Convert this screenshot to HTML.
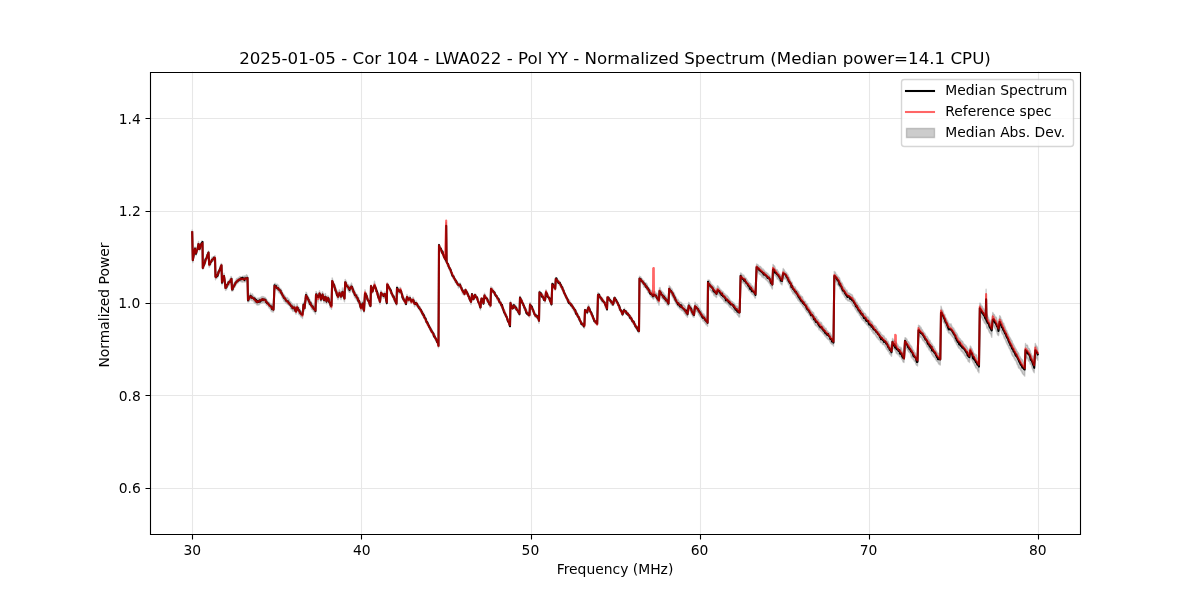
<!DOCTYPE html>
<html><head><meta charset="utf-8"><title>Normalized Spectrum</title><style>html,body{margin:0;padding:0;background:#fff;overflow:hidden;width:1200px;height:600px}svg{display:block;will-change:transform;font-family:"DejaVu Sans",sans-serif}</style></head><body>
<svg width="1200" height="600" viewBox="0 0 1200 600">
<defs><clipPath id="c"><rect x="150" y="72" width="930" height="462"/></clipPath></defs>
<rect width="1200" height="600" fill="#fff"/>
<g clip-path="url(#c)">
<path d="M192.2 230.03 L192.8 258.5 L193.35 255.01 L193.9 252.42 L194.45 249.73 L195 247.03 L195.5 248.89 L196 251.47 L196.5 249.63 L197 248.39 L197.5 246.94 L198 243.96 L198.5 241.54 L199 243.93 L199.5 247.05 L200 245.26 L200.5 243.75 L201 243.06 L201.5 242.54 L202 240.72 L202.5 241.78 L202.8 265.95 L203.35 264.38 L203.9 263.46 L204.45 261.46 L205 259.62 L205.5 259.73 L206 256.8 L206.5 256 L207 255.19 L207.5 252.94 L208 252.13 L208.5 251.09 L209.2 264.09 L209.76 261.44 L210.32 260.86 L210.88 260.21 L211.44 258.92 L212 257.27 L212.5 257.66 L213 257.09 L213.5 256.84 L214 256.76 L214.5 256.28 L215 255.56 L215.5 275.51 L216 274.1 L216.5 273.88 L217 273.35 L217.5 272.34 L218 271.89 L218.5 270.14 L219 270.03 L219.5 269.05 L220 266.49 L220.5 265.59 L221 263.99 L221.5 263.45 L222 280.03 L222.5 278.35 L223 276.69 L223.5 275.37 L224 273.3 L224.5 278.13 L225 281.44 L225.5 286.06 L226 285.05 L226.5 284.73 L227 283.37 L227.5 283.09 L228 281.31 L228.5 281.36 L229 280.23 L229.5 279.72 L230 278.94 L230.5 278.66 L231 276.46 L231.5 276.91 L232 286.5 L232.5 286.98 L233 284.51 L233.5 284.11 L234 282.9 L234.5 283.72 L235 281.42 L235.5 281.29 L236 280.12 L236.5 278.66 L237 278.55 L237.5 278.71 L238 277.95 L238.5 278.18 L239 277.19 L239.5 277.04 L240 276.51 L240.5 276.86 L241 277.62 L241.5 276.83 L242 276.73 L242.5 276.31 L243 276.22 L243.5 277.32 L244 276.01 L244.5 275.95 L245 276.2 L245.5 275.87 L246 276.91 L246.5 274.59 L247 275.79 L247.5 275.81 L248 296.87 L248.5 296.39 L249 296.22 L249.5 296.1 L250 294.11 L250.5 293.06 L251 294.62 L251.5 295.18 L252 294.53 L252.5 293.88 L253 295.99 L253.5 295.66 L254 296.81 L254.5 296.72 L255 297.05 L255.5 297.5 L256 298.95 L256.5 299.43 L257 298.13 L257.5 298.57 L258 299.76 L258.5 298.52 L259 297.85 L259.5 298.37 L260 298.15 L260.5 297.78 L261 297.21 L261.5 296.92 L262 296.47 L262.5 296.95 L263 296.46 L263.5 296.81 L264 296.96 L264.5 297.77 L265 297.39 L265.5 297.77 L266 298.72 L266.5 299.28 L267 300.24 L267.5 300.58 L268 301.85 L268.5 302.25 L269 302.18 L269.5 302.49 L270 303.64 L270.5 303.96 L271 304.15 L271.5 303.96 L272 304.28 L272.5 305.87 L273 306.59 L273.5 307.1 L274 294.31 L274.5 283.72 L275 283.29 L275.5 284.11 L276 284.48 L276.5 284.23 L277 284.69 L277.5 284.31 L278 285.24 L278.5 285.38 L279 287.09 L279.5 287.48 L280 288.49 L280.5 288.79 L281 288.88 L281.5 290.37 L282 291 L282.5 292.5 L283 293.36 L283.5 293.71 L284 294.77 L284.5 295.37 L285 295.76 L285.5 296.93 L286 297.91 L286.5 297.44 L287 298.02 L287.5 297.58 L288 299.14 L288.5 299.48 L289 299.12 L289.5 300.84 L290 301.5 L290.5 301.5 L291 302.35 L291.5 302.72 L292 304.25 L292.5 303.77 L293 305.04 L293.5 305.84 L294 304.56 L294.5 304.43 L295 305.79 L295.5 306.95 L296 309.18 L296.5 306.9 L297 303.69 L297.5 305.37 L298 306.82 L298.5 307.73 L299 307.41 L299.5 308.71 L300 308.98 L300.5 310.9 L301 311.26 L301.5 311.88 L302 311.68 L302.5 312.12 L303 307.49 L303.5 302.25 L304 303.27 L304.5 305.27 L305 301.36 L305.5 296.98 L306 292.18 L306.5 292.56 L307 294.4 L307.5 295.53 L308 296.24 L308.5 297.07 L309 297.85 L309.5 299.47 L310 300.01 L310.5 301.01 L311 301.38 L311.5 302.47 L312 303.78 L312.5 303.77 L313 304.21 L313.5 305.25 L314 306.59 L314.5 306.65 L315 307.86 L315.5 307.63 L316 291.54 L316.5 292.13 L317 293.66 L317.5 295.79 L318 296.36 L318.5 294.73 L319 292.89 L319.5 290.7 L320 292.43 L320.5 294.43 L321 296.54 L321.5 294.93 L322 293.45 L322.5 291.78 L323 293.15 L323.5 295.24 L324 296.73 L324.5 296.54 L325 293.82 L325.5 293.59 L326 297.14 L326.5 298.03 L327 296.63 L327.5 296.19 L328 295.84 L328.5 296.41 L329 298.08 L329.5 299.11 L330 300.16 L330.5 303.2 L331 302.95 L331.5 303.93 L332.2 277.96 L332.77 279.89 L333.35 281.4 L333.93 283.09 L334.5 284.27 L335 284.91 L335.5 287.32 L336 288.33 L336.5 289.77 L337 290.6 L337.5 292.48 L338 293.84 L338.5 292.68 L339 290.47 L339.5 289.73 L340 291.1 L340.5 291.81 L341 293.39 L341.5 291.77 L342 291.15 L342.5 287.94 L343 290.65 L343.5 291.62 L344 293.86 L344.5 296.12 L345.2 279.38 L345.77 280.77 L346.35 281.28 L346.93 283.67 L347.5 284.16 L348 285.01 L348.5 284.54 L349 285.4 L349.5 287.24 L350 285.85 L350.5 285.07 L351 284.62 L351.5 283.07 L352 285.34 L352.5 286.21 L353 287.69 L353.5 288.36 L354 289.87 L354.5 290.17 L355 291.91 L355.5 292.91 L356 293.71 L356.5 294.37 L357 295.29 L357.5 294.48 L358 297.11 L358.5 297.42 L359 298.46 L359.5 300.17 L360 301.52 L360.5 303.85 L361 306.35 L361.5 305.26 L362 302.76 L362.5 301.15 L363 304.52 L363.5 305.55 L364 309.22 L364.5 299.23 L365 289.79 L365.5 292 L366 293.63 L366.5 293.35 L367 296.12 L367.5 296.48 L368 298.64 L368.5 298.93 L369 299.55 L369.5 301.81 L370 303.24 L370.5 305.05 L371 284.87 L371.5 286.19 L372 287.56 L372.5 289.25 L373 287.62 L373.5 285.6 L374 284.14 L374.5 281.25 L375 284.24 L375.5 285.77 L376 288.69 L376.5 289.42 L377 290.37 L377.5 292.47 L378 293.15 L378.5 295.03 L379 295.97 L379.5 299.2 L380 300.35 L380.5 294.72 L381 290.53 L381.5 291.74 L382 292.22 L382.5 292.86 L383 292.95 L383.5 293.76 L384 293.46 L384.5 293.21 L385 291.67 L385.6 294.36 L386.2 298.33 L386.8 300.13 L387.2 282.64 L387.76 283.32 L388.32 284.75 L388.88 286.28 L389.44 286.86 L390 288 L390.5 288.24 L391 289.44 L391.5 291.19 L392 292.73 L392.5 293.74 L393 295.29 L393.5 295.36 L394 296.38 L394.5 297.86 L395 298.44 L395.5 299.47 L396 300.05 L396.5 302.15 L397 286.12 L397.5 287.66 L398 287.45 L398.5 289.46 L399 289.15 L399.5 289.42 L400 287.54 L400.5 287.45 L401 290.1 L401.5 290.94 L402 293.22 L402.5 294.2 L403 294.53 L403.5 297.1 L404 298.41 L404.5 298.52 L405 300.24 L405.5 300.43 L406 301.2 L406.5 298.21 L407 294.37 L407.5 297.03 L408 296.27 L408.5 298.59 L409 298.22 L409.5 296.24 L410 295.86 L410.5 298.18 L411 298.83 L411.5 300.43 L412 299.98 L412.5 298.39 L413 297.21 L413.5 297.88 L414 300.85 L414.5 301.79 L415 302.16 L415.5 301.88 L416 300.82 L416.5 302.13 L417 302.98 L417.5 304.03 L418 304.18 L418.5 305.15 L419 305.66 L419.5 306.3 L420 306.52 L420.5 308.23 L421 309.06 L421.5 310.05 L422 310.54 L422.5 312.4 L423 312.8 L423.5 312.29 L424 314.29 L424.54 315.71 L425.07 317.35 L425.61 317.84 L426.15 319 L426.69 319.92 L427.23 321.71 L427.76 322.28 L428.3 323.33 L428.81 324.18 L429.32 325.74 L429.83 326.11 L430.34 326.45 L430.86 328.51 L431.37 328.77 L431.88 330.21 L432.39 331.13 L432.9 332.46 L433.41 333.31 L433.92 333.42 L434.43 334.55 L434.94 334.91 L435.46 337.32 L435.97 337.63 L436.48 339.03 L436.99 339.1 L437.5 339.16 L438 343.15 L438.5 344.64 L439 244.26 L439.5 245.25 L440 246.57 L440.5 247.54 L441 247.5 L441.5 249.87 L442 250.08 L442.5 251.14 L443 253.26 L443.5 254.11 L444 254.73 L444.5 255.22 L445 257.48 L445.6 258.67 L446.2 259.36 L446.2 222.78 L446.6 259 L447 260.77 L447.5 262.51 L448 263.81 L448.5 264.91 L449 265.03 L449.5 266.52 L450 267.68 L450.5 268.34 L451 269.73 L451.5 272.06 L452 272.3 L452.5 273.84 L453 274.18 L453.5 275.42 L454 275.54 L454.5 277.39 L455 278.75 L455.5 279.95 L456 280.25 L456.5 280.74 L457 281.3 L457.5 281.85 L458 282.94 L458.5 284.21 L459 283.34 L459.5 284.03 L460 282.91 L460.5 283.76 L461 285.39 L461.5 286.32 L462 287.71 L462.5 289.77 L463 289.9 L463.5 290.91 L464 292.18 L464.5 293.03 L465 290.15 L465.5 289.06 L466 289.59 L466.5 290.4 L467 291.62 L467.5 291.69 L468 293.01 L468.5 294.51 L469 296.04 L469.5 296.71 L470 298 L470.5 299.72 L471 301.11 L471.5 297.28 L472 294.03 L472.5 294.53 L473 295.91 L473.5 297.56 L474 295.92 L474.5 294.48 L475 294.23 L475.5 294.1 L476 294.52 L476.5 296.04 L477 297.52 L477.5 297.44 L478 299.43 L478.5 300.01 L479 301.4 L479.5 302.72 L480 304.41 L480.5 306.82 L481 300.82 L481.5 297.72 L482 297.52 L482.5 299.03 L483 300.69 L483.5 301.72 L484 297.79 L484.5 293.08 L485 294.83 L485.5 294.89 L486 297.43 L486.5 296.79 L487 297.87 L487.5 298.08 L488 299.29 L488.5 299.75 L489 301.77 L489.5 302.02 L490 303.31 L490.5 303.56 L491 286.65 L491.5 288.21 L492 287.75 L492.5 288 L493 289.77 L493.5 289.66 L494 290.68 L494.5 292.19 L495 292.16 L495.5 293.84 L496 293.89 L496.5 295.81 L497 296.56 L497.5 296.48 L498 297.42 L498.5 297.92 L499 299.25 L499.5 300.54 L500 300.05 L500.5 302.05 L501 301.74 L501.5 303.14 L502 303.84 L502.5 306.95 L503 307.1 L503.5 308.36 L504 309.06 L504.5 311.1 L505 310.68 L505.5 312.91 L506 315.17 L506.5 315.04 L507 316.41 L507.5 317.99 L508 318.49 L508.5 320.16 L509 321.88 L509.5 322.75 L510 324.09 L510.5 301.23 L511 302.93 L511.5 304.18 L512 306.25 L512.5 307.26 L513 305.94 L513.5 304.01 L514 304.76 L514.5 305.36 L515 305.11 L515.5 305.15 L516 306.16 L516.5 307.78 L517 307.37 L517.5 308.47 L518 309.61 L518.5 310.91 L519 311.09 L519.5 311.85 L520 296.13 L520.5 298.22 L521 298.93 L521.5 299.35 L522 299.7 L522.5 301 L523 302.69 L523.5 303.18 L524 305.13 L524.5 306.01 L525 307.12 L525.5 308.44 L526 309.51 L526.5 309.97 L527 310.82 L527.5 312.74 L528 311.55 L528.5 312.5 L529 313.85 L529.5 313.82 L530 302.49 L530.5 303.14 L531 304.97 L531.5 306.11 L532 307.2 L532.5 307.43 L533 309.12 L533.5 309.28 L534 311.08 L534.5 311.86 L535 313.49 L535.5 314.19 L536 314.77 L536.5 314.16 L537 315.7 L537.5 315.25 L538 315.39 L538.5 317.56 L539 318.67 L539.5 290.9 L540 291.63 L540.5 291.97 L541 292.92 L541.5 293.08 L542 293.82 L542.5 293.68 L543 295.32 L543.5 295.77 L544 296.88 L544.5 297.95 L545 299 L545.5 293.83 L546 289.62 L546.5 291.25 L547 292.64 L547.5 293.58 L548 294.85 L548.5 296.05 L549 296.65 L549.5 297.59 L550 298.28 L550.5 299.53 L551 300.97 L551.5 302.53 L552.3 282.71 L552.9 283.57 L553.5 284.46 L554.1 285.82 L554.65 286.5 L555.2 287.45 L555.8 277.55 L556.38 277.71 L556.96 278.04 L557.54 279.39 L558.12 279.93 L558.7 280.19 L559.2 280.96 L559.7 283.17 L560.2 282.52 L560.7 283.66 L561.2 284.77 L561.7 284.92 L562.28 286.86 L562.86 289 L563.44 289.87 L564.02 291.02 L564.6 292.3 L565.18 293.34 L565.76 295.04 L566.34 295.76 L566.92 296.91 L567.5 298.45 L568.01 299.5 L568.52 299.87 L569.04 300.69 L569.55 299.99 L570.06 302.25 L570.58 303.47 L571.09 303.62 L571.6 303.44 L572.17 304.06 L572.73 305.51 L573.3 305.76 L573.87 307.5 L574.43 307.75 L575 309.38 L575.51 310.57 L576.03 309.86 L576.54 312 L577.06 312.49 L577.57 313.12 L578.09 314.51 L578.6 315.69 L579.18 317.5 L579.76 317.4 L580.34 319.87 L580.92 321.53 L581.5 322 L582.08 322.55 L582.66 322.85 L583.24 322.85 L583.82 324.29 L584.4 324.79 L585 309.27 L585.58 310.46 L586.15 309.81 L586.72 309.94 L587.3 310.78 L587.9 307.03 L588.5 304.83 L589.08 306.61 L589.66 307.87 L590.24 309.95 L590.82 310.84 L591.4 313.27 L591.9 314.23 L592.4 314.93 L592.9 315.42 L593.4 316.99 L593.9 318.16 L594.4 318.3 L594.9 320.07 L595.48 320.98 L596.05 321.46 L596.62 322.86 L597.2 323.41 L598 292.49 L598.5 293.55 L599 293.65 L599.5 294.94 L600 294.8 L600.5 296.28 L601 296.59 L601.5 297.55 L602 297.66 L602.5 297.67 L603 299.95 L603.5 299.65 L604 301.09 L604.5 301.7 L605 302.9 L605.5 304.56 L606 304.9 L606.5 306.52 L607 306.16 L607.5 296.34 L608 296.36 L608.5 297 L609 297.65 L609.5 298.41 L610 299.65 L610.5 298.47 L611 300.02 L611.5 300.24 L612 301.78 L612.5 301.59 L613 302.63 L613.5 300.2 L614 298.73 L614.5 296.91 L615 297 L615.5 298.02 L616 298.09 L616.5 299.75 L617 300.83 L617.5 301.29 L618 303.29 L618.5 302.86 L619 304.14 L619.5 305.54 L620 307.16 L620.5 308.41 L621 309.36 L621.5 310.37 L622 311.76 L622.5 312.16 L623 310.6 L623.5 309.44 L624 309.96 L624.5 308.14 L625 309.65 L625.5 310.88 L626 310.81 L626.5 310.57 L627 311.4 L627.5 312.42 L628 313.17 L628.5 312.7 L629 314.11 L629.5 314.44 L630 315.45 L630.5 316.4 L631 316.34 L631.5 316.59 L632 318.31 L632.5 319.8 L633 320.06 L633.5 320.64 L634 322.53 L634.5 321.61 L635 323.38 L635.5 323.45 L636 324.56 L636.5 325.3 L637 326.74 L637.5 326.23 L638 327.15 L638.5 327.34 L639 329.1 L639.5 276.1 L640 277.01 L640.5 276.73 L641 277.56 L641.5 278.73 L642 278.59 L642.5 279.63 L643 280.22 L643.5 280.41 L644 280.45 L644.5 282.36 L645 282.59 L645.5 283.63 L646 282.77 L646.5 283.58 L647 283.98 L647.5 285.24 L648 286.84 L648.5 287.33 L649 287.76 L649.5 288.57 L650 289.61 L650.5 289.81 L651 290.88 L651.5 291.25 L652 290.57 L652.5 291.97 L653 293.33 L653.5 292.2 L654 292.06 L654.5 291.57 L655 291.38 L655.5 292.97 L656 293.07 L656.5 293.49 L657 293.23 L657.5 295.29 L658 295.42 L658.5 296.32 L659 298.45 L659.5 287.9 L660 287.48 L660.5 289.76 L661 290.45 L661.5 290.72 L662 292.38 L662.5 291.77 L663 292.56 L663.5 293.01 L664 293.75 L664.5 295.32 L665 294.79 L665.5 295.52 L666 296.25 L666.5 297.46 L667 297.83 L667.5 299.07 L668 298.91 L668.5 299.26 L669.2 285.64 L669.76 286.6 L670.32 286.81 L670.88 288.1 L671.44 289.56 L672 289.05 L672.5 290.36 L673 292 L673.5 292 L674 292.89 L674.5 293.76 L675 295.39 L675.5 296.34 L676 296.9 L676.5 297.89 L677 299.4 L677.5 299.78 L678 299.24 L678.5 300.53 L679 301.18 L679.5 302.08 L680 302 L680.5 302.18 L681 302.66 L681.5 302.39 L682 303.66 L682.5 303.87 L683 304.89 L683.5 304.64 L684 305.42 L684.5 305.64 L685 306.31 L685.5 307.9 L686 308.02 L686.5 309.19 L687 309.11 L687.5 310.43 L688.15 305.63 L688.8 302.32 L689.35 303.18 L689.9 304.58 L690.45 305.25 L691 305.94 L691.5 307.35 L692 307.94 L692.5 309.02 L693 310.04 L693.5 310.53 L694 311.33 L694.5 307.13 L695 302.25 L695.5 303.23 L696 304.16 L696.5 304.61 L697 304.57 L697.5 304.69 L698 305.88 L698.5 306.63 L699 308.02 L699.5 308.06 L700 308.93 L700.5 310.18 L701 310.35 L701.5 311.29 L702 312.83 L702.5 313.31 L703 313.48 L703.5 313.9 L704 313.88 L704.51 315.36 L705.03 315.82 L705.54 316.61 L706.06 316.96 L706.57 317.92 L707.09 318.55 L707.6 319.51 L708 280.06 L708.5 280.2 L709 279.86 L709.5 280.86 L710 281.22 L710.5 282.28 L711 283.62 L711.5 284.18 L712 284.33 L712.5 285.4 L713 285.53 L713.5 285.84 L714 286.49 L714.5 287.4 L715 289.16 L715.5 288.41 L716 290.32 L716.5 290.99 L717 287.98 L717.5 285.8 L718 286.09 L718.5 286.95 L719 287.86 L719.5 288.11 L720 289.17 L720.5 289.83 L721 289.98 L721.5 290.55 L722 290.93 L722.5 291.7 L723 291.55 L723.5 292.88 L724 293.35 L724.5 293.4 L725 295.47 L725.52 294.43 L726.04 295.01 L726.57 296.1 L727.09 295.51 L727.61 296.61 L728.13 296.76 L728.66 297.56 L729.18 298.5 L729.7 299.24 L730.28 300.21 L730.85 300.63 L731.42 301.4 L732 301.67 L732.51 301.65 L733.02 302.96 L733.54 302.67 L734.05 303.11 L734.56 304.7 L735.08 304.84 L735.59 305.06 L736.1 305.84 L736.6 306.49 L737.1 305.95 L737.6 307.17 L738.1 307.21 L738.6 308.45 L739.1 308.63 L739.6 310.23 L740.1 291.66 L740.6 272.85 L741.11 273.68 L741.63 273.53 L742.14 274.59 L742.66 275.29 L743.17 275.59 L743.69 274.93 L744.2 276.17 L744.71 277.24 L745.23 277.79 L745.74 278.86 L746.25 278.29 L746.76 279.84 L747.27 279.9 L747.79 280.98 L748.3 281.73 L748.82 282.51 L749.34 282.52 L749.87 283.55 L750.39 283.51 L750.91 284.04 L751.43 285.66 L751.96 286 L752.48 285.86 L753 286.89 L753.5 288.02 L754 289.49 L754.5 289.93 L755 290.51 L755.5 289.91 L756.05 277.2 L756.6 263.94 L757.17 264.35 L757.73 264.81 L758.3 264.93 L758.87 266.37 L759.43 266.68 L760 266.34 L760.5 266.39 L761 268.39 L761.5 267.57 L762 268.93 L762.5 269.77 L763 268.82 L763.5 269.93 L764 270.03 L764.5 270.89 L765 271.22 L765.5 272.46 L766 272.21 L766.5 272.34 L767 273.33 L767.58 273.33 L768.16 273.98 L768.74 275.98 L769.32 275.15 L769.9 276.02 L770.4 277.26 L770.9 277.69 L771.4 278.14 L771.9 280.7 L772.4 280.76 L773 264.38 L773.53 265.18 L774.06 265.59 L774.59 266.25 L775.11 267.58 L775.64 269.41 L776.17 269.3 L776.7 270.01 L777.23 269.64 L777.76 271.13 L778.29 271.29 L778.82 273.02 L779.35 273.27 L779.88 274.15 L780.41 274.84 L780.94 275.34 L781.47 275.62 L782 277.41 L782.6 272.43 L783.2 268.53 L783.75 269.55 L784.3 269.93 L784.85 271 L785.4 271.95 L785.95 272.15 L786.5 272.71 L787 273.58 L787.5 274.95 L788 274.56 L788.5 276.62 L789 276.93 L789.5 277.74 L790 279.31 L790.5 280.07 L791 281.51 L791.5 282.73 L792 281.97 L792.5 284.06 L793 285.76 L793.5 285.9 L794 286.87 L794.5 286.88 L795 286.8 L795.5 287.64 L796 289.25 L796.5 290.05 L797 289.89 L797.5 290.81 L798 291.76 L798.5 291.44 L799 292.83 L799.5 294.49 L800 295.46 L800.5 295.03 L801 296.71 L801.5 296.24 L802 296.81 L802.5 296.81 L803 299.11 L803.5 299.16 L804 301.23 L804.5 300.93 L805 301.57 L805.5 301.29 L806 303.65 L806.5 303.43 L807 304.24 L807.5 303.93 L808 306.23 L808.5 306.99 L809 306.92 L809.5 308 L810 308.88 L810.5 309.9 L811 310.2 L811.5 311.74 L812 311.49 L812.5 312.04 L813 312.84 L813.5 312.54 L814 314.13 L814.5 315.77 L815 316.13 L815.5 316.19 L816 317.37 L816.5 316.78 L817 318.24 L817.5 319.25 L818 319.93 L818.5 319.79 L819 321.23 L819.5 322.31 L820 321.76 L820.5 322.94 L821 322.39 L821.5 322.78 L822 324.67 L822.5 324.98 L823 325.63 L823.5 325.81 L824 326.52 L824.5 327.64 L825 328.66 L825.5 328.27 L826 328.12 L826.5 330.15 L827 330.38 L827.5 330.99 L828 331.31 L828.5 332.95 L829 332.4 L829.5 333.18 L830 332.68 L830.5 334.01 L831 334.64 L831.5 335.65 L832 336.53 L832.5 336.66 L833 338.59 L833.5 337.87 L834.3 271.38 L834.82 272.38 L835.35 272.3 L835.88 273.87 L836.4 274.56 L836.92 274.76 L837.45 276.52 L837.98 276.26 L838.5 277.02 L839 277.4 L839.5 278.04 L840 279.56 L840.5 280.71 L841 281.64 L841.5 283.25 L842 282.67 L842.5 284.29 L843 284.95 L843.5 287.22 L844 286.95 L844.5 287.66 L845 288.05 L845.5 289.74 L846 289.77 L846.5 290.78 L847 290.33 L847.5 292.62 L848 292.54 L848.5 292.93 L849 293.58 L849.5 293.18 L850 293.5 L850.5 294.25 L851 294.41 L851.5 294.38 L852 294.84 L852.5 295.39 L853 296.83 L853.5 297.78 L854 298.14 L854.5 299.91 L855 299.03 L855.5 300.51 L856 302.32 L856.5 302.08 L857 302.24 L857.5 304.49 L858 304.81 L858.5 304.69 L859 306.42 L859.5 306.27 L860 306.85 L860.5 308.2 L861 308.78 L861.5 309.22 L862 310.33 L862.5 310.76 L863 311.85 L863.5 312.36 L864 313.3 L864.5 313.26 L865 313.38 L865.5 313.94 L866 315.03 L866.5 316.48 L867 316.69 L867.5 316.5 L868 317.85 L868.5 317.35 L869 319.06 L869.5 318.99 L870 320.19 L870.5 320.74 L871 320.91 L871.5 321.83 L872 321.76 L872.5 322.88 L873 324.08 L873.5 326.21 L874 325.13 L874.5 325.45 L875 325.56 L875.5 327.26 L876 326.56 L876.5 327.65 L877 328.89 L877.5 328.77 L878 330.8 L878.5 331.24 L879 331.07 L879.5 331.74 L880 332.02 L880.5 332.47 L881 333.89 L881.5 334.48 L882 334.84 L882.5 335.29 L883 335.37 L883.5 336.33 L884 335.9 L884.5 337.14 L885 338.37 L885.5 338.79 L886 338.39 L886.5 339.29 L887 340.97 L887.5 342.01 L888 341.19 L888.5 342.56 L889 343.72 L889.5 345.01 L890 344.77 L890.5 346.31 L891 346.63 L891.5 348.77 L892 343.29 L892.5 338.5 L893 339 L893.5 340.29 L894 340.7 L894.5 340.41 L895 341.66 L895.5 341.54 L896 342.49 L896.5 342.88 L897 343.53 L897.5 344.51 L898 345.03 L898.5 346.28 L899 346.91 L899.5 346.89 L900 346.94 L900.5 348.4 L901 347.48 L901.5 348.52 L902 350.85 L902.5 351.81 L903 352.97 L903.5 353.36 L904 353.83 L904.5 345.71 L905 337.74 L905.5 337.74 L906 338.43 L906.5 338.75 L907 339.52 L907.5 341.19 L908 341.66 L908.5 341.68 L909 342.55 L909.5 343.64 L910 345.02 L910.5 344.99 L911 346.32 L911.5 346.16 L912 347.43 L912.5 349.1 L913 350.17 L913.5 349.97 L914 350.99 L914.5 352.56 L915 352.75 L915.5 353.45 L916 354.77 L916.5 355.39 L917 356.63 L917.5 357.25 L918 340.71 L918.5 325.08 L919 325.71 L919.5 325.65 L920 326.44 L920.5 328.01 L921 327.32 L921.5 329.21 L922 329.45 L922.5 329.99 L923 331.07 L923.5 331.79 L924 332.9 L924.5 332.84 L925 333.67 L925.5 334.41 L926 336.22 L926.5 336.5 L927 336.3 L927.5 337.35 L928 337.9 L928.5 339.01 L929 339.86 L929.5 341.65 L930 340.33 L930.5 342.5 L931 342.95 L931.5 343.13 L932 344.15 L932.5 344.72 L933 345.74 L933.5 346.97 L934 346.45 L934.5 348.61 L935 348.51 L935.5 350.2 L936 350.4 L936.5 351.56 L937 351.97 L937.5 352.97 L938 353.2 L938.58 353.25 L939.15 354.5 L939.72 355.02 L940.3 356.21 L941 306.14 L941.55 308.16 L942.1 309.9 L942.65 309.86 L943.2 311.48 L943.75 313.77 L944.3 314.53 L944.8 314.48 L945.3 316.73 L945.8 317.7 L946.3 318.59 L946.8 319.49 L947.3 320.51 L947.8 321.05 L948.3 322.33 L948.84 323.45 L949.38 323.65 L949.92 325 L950.46 324.4 L951 323.86 L951.54 325.59 L952.08 326.59 L952.62 327.34 L953.16 327.88 L953.7 328.13 L954.2 330.22 L954.7 330.07 L955.2 331.7 L955.7 332.13 L956.2 332.61 L956.7 334.85 L957.2 333.82 L957.7 335.58 L958.2 336.83 L958.7 337.05 L959.2 338.22 L959.7 338.4 L960.2 338.84 L960.7 340.76 L961.2 340.18 L961.7 340.82 L962.23 341.03 L962.76 341.87 L963.29 343.24 L963.82 343.87 L964.35 344.26 L964.88 344.58 L965.41 345.95 L965.94 345.43 L966.47 346.78 L967 347.5 L967.6 348.25 L968.2 349.79 L968.8 350.42 L969.4 351.4 L970.3 346.06 L970.87 346.71 L971.43 348.13 L972 348.74 L972.57 350.39 L973.13 351.48 L973.7 352.89 L974.23 354.29 L974.76 353.81 L975.29 354.88 L975.82 355.55 L976.35 354.64 L976.88 356.52 L977.41 358.05 L977.94 359.18 L978.47 359.4 L979 361.08 L979.8 303.11 L980.3 303.09 L980.8 304.84 L981.3 305.84 L981.8 306.02 L982.3 306.13 L982.8 308.19 L983.3 308.2 L983.8 308.88 L984.3 309.91 L984.8 310.37 L985.3 311.96 L985.8 312.59 L986.1 289.11 L986.5 314 L987 314.21 L987.5 315.43 L988.02 317.04 L988.55 317.49 L989.08 320.25 L989.6 319.75 L990.12 320.67 L990.65 322.63 L991.18 323.52 L991.7 324.22 L992.25 318.13 L992.8 312.46 L993.3 313.5 L993.8 314.3 L994.3 314.6 L994.8 315.8 L995.3 316.85 L995.8 317.64 L996.34 317.12 L996.88 319.62 L997.42 321.08 L997.96 322.76 L998.5 324.37 L999.1 320.24 L999.7 315.59 L1000.2 316.33 L1000.7 317.52 L1001.2 319.5 L1001.7 319.43 L1002.2 321.01 L1002.7 322.75 L1003.2 323.25 L1003.7 323.17 L1004.2 325.5 L1004.73 326.25 L1005.25 327.53 L1005.78 329.25 L1006.31 330.1 L1006.84 330.87 L1007.36 332.59 L1007.89 333.5 L1008.42 334.48 L1008.95 335.71 L1009.47 336.83 L1010 337.67 L1010.53 338.61 L1011.05 339.86 L1011.58 340.37 L1012.11 341.22 L1012.64 343.51 L1013.16 343.74 L1013.69 344.85 L1014.22 345.8 L1014.75 346.88 L1015.27 347.88 L1015.8 348.91 L1016.3 349.42 L1016.8 351.25 L1017.3 351.39 L1017.8 353.2 L1018.3 352.68 L1018.8 354.06 L1019.3 356.04 L1019.8 356.42 L1020.3 357.11 L1020.8 358.59 L1021.36 358.67 L1021.91 360.02 L1022.47 359.66 L1023.03 361.33 L1023.59 362.02 L1024.14 363.41 L1024.7 364.36 L1025.5 343.5 L1026.03 345.45 L1026.56 345.07 L1027.09 345.05 L1027.61 345.61 L1028.14 348.29 L1028.67 348.19 L1029.2 348.63 L1029.7 349.75 L1030.2 350.75 L1030.7 353.14 L1031.2 353.6 L1031.7 355.71 L1032.2 355.89 L1032.7 355.98 L1033.2 358.76 L1033.7 359.32 L1034.2 360.56 L1034.75 352.87 L1035.3 343.35 L1035.9 345.32 L1036.5 345.99 L1037.1 346.87 L1037.7 348.75 L1037.7 360.19 L1037.1 358.74 L1036.5 358.34 L1035.9 356.84 L1035.3 354.96 L1034.75 363.13 L1034.2 372.78 L1033.7 371.85 L1033.2 370.99 L1032.7 369.4 L1032.2 368.35 L1031.7 366.77 L1031.2 364.23 L1030.7 364.38 L1030.2 364.04 L1029.7 361.51 L1029.2 361.13 L1028.67 361.19 L1028.14 360.01 L1027.61 358.26 L1027.09 358.45 L1026.56 357.49 L1026.03 357.06 L1025.5 356.13 L1024.7 376.13 L1024.14 375.29 L1023.59 374.63 L1023.03 374.18 L1022.47 373.41 L1021.91 372.12 L1021.36 371.11 L1020.8 370.52 L1020.3 369.17 L1019.8 368.68 L1019.3 367.11 L1018.8 368.16 L1018.3 366.97 L1017.8 364.89 L1017.3 364.83 L1016.8 363.24 L1016.3 361.77 L1015.8 360.67 L1015.27 360.42 L1014.75 359.02 L1014.22 358.6 L1013.69 356.89 L1013.16 356.53 L1012.64 355.96 L1012.11 354.91 L1011.58 353.83 L1011.05 351.48 L1010.53 351.03 L1010 349.11 L1009.47 349 L1008.95 347.76 L1008.42 346.61 L1007.89 345.21 L1007.36 344.8 L1006.84 343.48 L1006.31 342.46 L1005.78 341.04 L1005.25 339.55 L1004.73 338.69 L1004.2 338.13 L1003.7 336.21 L1003.2 334.7 L1002.7 334.43 L1002.2 333.79 L1001.7 332.4 L1001.2 330.79 L1000.7 330.12 L1000.2 328.4 L999.7 327.41 L999.1 332.14 L998.5 335.55 L997.96 335.21 L997.42 334.09 L996.88 332.23 L996.34 331.27 L995.8 329.54 L995.3 328.61 L994.8 328.22 L994.3 327.45 L993.8 325.48 L993.3 325.34 L992.8 325.05 L992.25 330.63 L991.7 337.34 L991.18 335.41 L990.65 333.7 L990.12 333.38 L989.6 332.63 L989.08 331.72 L988.55 329.97 L988.02 329.37 L987.5 327.72 L987 328.22 L986.5 326.19 L986.1 310.76 L985.8 324.53 L985.3 323.71 L984.8 323.32 L984.3 322.8 L983.8 321.13 L983.3 320.7 L982.8 319.9 L982.3 318.11 L981.8 317.86 L981.3 316.11 L980.8 316.64 L980.3 315.33 L979.8 315.23 L979 372.86 L978.47 370.99 L977.94 371.4 L977.41 369.34 L976.88 368.72 L976.35 367.71 L975.82 368.02 L975.29 366.39 L974.76 365.67 L974.23 364.19 L973.7 363.31 L973.13 362.38 L972.57 361.29 L972 360.19 L971.43 358.85 L970.87 358 L970.3 355.53 L969.4 362.51 L968.8 361.42 L968.2 361.42 L967.6 359.28 L967 358.37 L966.47 358.52 L965.94 357.06 L965.41 356.25 L964.88 355.4 L964.35 355.14 L963.82 353.28 L963.29 353.37 L962.76 352.39 L962.23 351.3 L961.7 351.48 L961.2 351 L960.7 349.69 L960.2 349.09 L959.7 348.81 L959.2 347.35 L958.7 348.13 L958.2 347.01 L957.7 346.2 L957.2 345 L956.7 344.45 L956.2 343.68 L955.7 341.77 L955.2 341.92 L954.7 340.87 L954.2 339.59 L953.7 338.09 L953.16 337.26 L952.62 337.13 L952.08 336.41 L951.54 335.49 L951 334.85 L950.46 334.52 L949.92 333.48 L949.38 333 L948.84 333.18 L948.3 332.4 L947.8 330.66 L947.3 330.49 L946.8 328.85 L946.3 327.81 L945.8 327.35 L945.3 325.66 L944.8 323.82 L944.3 323.31 L943.75 322.55 L943.2 321.88 L942.65 319.62 L942.1 318.89 L941.55 317.52 L941 317.5 L940.3 365.03 L939.72 364.16 L939.15 364.44 L938.58 363.64 L938 362.28 L937.5 361.69 L937 361.27 L936.5 360.86 L936 359.8 L935.5 359.36 L935 357.72 L934.5 357.57 L934 357.13 L933.5 356.57 L933 356.1 L932.5 354.84 L932 354.49 L931.5 352.74 L931 352.25 L930.5 351.87 L930 350.53 L929.5 350.09 L929 349.94 L928.5 348.16 L928 347.67 L927.5 346.33 L927 346.74 L926.5 345.19 L926 344.4 L925.5 343.45 L925 342.66 L924.5 342.2 L924 341.34 L923.5 340.95 L923 340.63 L922.5 339.58 L922 338.89 L921.5 337.37 L921 337.08 L920.5 337.31 L920 336.4 L919.5 335.24 L919 335.26 L918.5 334.96 L918 350.48 L917.5 365.97 L917 365.23 L916.5 365.33 L916 364.18 L915.5 362.79 L915 361.35 L914.5 361.4 L914 360.23 L913.5 359.97 L913 359.06 L912.5 357.54 L912 356.6 L911.5 357.9 L911 355.9 L910.5 354.16 L910 352.89 L909.5 352.7 L909 352 L908.5 351.89 L908 350.38 L907.5 350.16 L907 348.77 L906.5 348.63 L906 347.17 L905.5 346.66 L905 346.17 L904.5 355.39 L904 362.53 L903.5 362.19 L903 361.68 L902.5 360.17 L902 359.44 L901.5 358.89 L901 356.63 L900.5 356.26 L900 356.82 L899.5 356.7 L899 355.09 L898.5 353.82 L898 354.82 L897.5 353.23 L897 353.27 L896.5 353.57 L896 352.36 L895.5 350.76 L895 349.66 L894.5 349.82 L894 348.51 L893.5 348.4 L893 348.61 L892.5 347.75 L892 351.58 L891.5 356.31 L891 355.42 L890.5 354.75 L890 353.78 L889.5 353.96 L889 351.92 L888.5 351.25 L888 351.2 L887.5 350.35 L887 348.91 L886.5 349.29 L886 348.04 L885.5 346.73 L885 346.38 L884.5 344.94 L884 344.91 L883.5 344.88 L883 343.53 L882.5 344.41 L882 342.62 L881.5 342.37 L881 342.68 L880.5 342.15 L880 340.8 L879.5 340.14 L879 339.81 L878.5 339.64 L878 338.85 L877.5 337.5 L877 337.8 L876.5 336.88 L876 336.11 L875.5 335.33 L875 333.95 L874.5 333.92 L874 334.1 L873.5 332.38 L873 333 L872.5 330.57 L872 331.5 L871.5 329.73 L871 329.58 L870.5 329.25 L870 327.21 L869.5 327.83 L869 327.58 L868.5 326.56 L868 325.42 L867.5 325.53 L867 324.57 L866.5 324.47 L866 323.3 L865.5 322.52 L865 322.93 L864.5 321.28 L864 320.6 L863.5 321.06 L863 320.53 L862.5 318.48 L862 319.55 L861.5 318.15 L861 317.82 L860.5 316.46 L860 315.7 L859.5 315.42 L859 314.1 L858.5 312.81 L858 312.97 L857.5 311.77 L857 311.94 L856.5 310.3 L856 310.1 L855.5 309.08 L855 308.76 L854.5 307.03 L854 306.38 L853.5 306.2 L853 305.66 L852.5 305.01 L852 302.35 L851.5 303.02 L851 301.74 L850.5 301.93 L850 301.33 L849.5 301.25 L849 301.03 L848.5 300.8 L848 300.48 L847.5 300.75 L847 299.72 L846.5 298.7 L846 299.35 L845.5 297.73 L845 297.37 L844.5 296.46 L844 295.6 L843.5 294.43 L843 293.3 L842.5 293.81 L842 291.72 L841.5 291.03 L841 289.44 L840.5 288.33 L840 288.88 L839.5 286.71 L839 286.43 L838.5 284.93 L837.98 284.51 L837.45 284.91 L836.92 282.25 L836.4 282.03 L835.88 282.03 L835.35 280.21 L834.82 279.66 L834.3 279.44 L833.5 346.13 L833 344.77 L832.5 344.38 L832 344.54 L831.5 343.56 L831 343.65 L830.5 342.8 L830 341.82 L829.5 340.62 L829 340.09 L828.5 339.41 L828 339.45 L827.5 338.79 L827 338.39 L826.5 337.3 L826 337.25 L825.5 335.93 L825 336.23 L824.5 335.04 L824 334.54 L823.5 334.14 L823 333.06 L822.5 332.79 L822 332.32 L821.5 331.33 L821 331.29 L820.5 330.83 L820 330.14 L819.5 328.48 L819 329.8 L818.5 327.76 L818 327.43 L817.5 327.05 L817 326.34 L816.5 325.94 L816 325.33 L815.5 325.51 L815 324.38 L814.5 323.45 L814 322.75 L813.5 321 L813 320.43 L812.5 320.07 L812 319.72 L811.5 318.24 L811 318.42 L810.5 316.77 L810 316.16 L809.5 315.07 L809 315.14 L808.5 312.99 L808 313.01 L807.5 312.97 L807 311.92 L806.5 311.57 L806 310.9 L805.5 310.07 L805 309.04 L804.5 308.31 L804 307.37 L803.5 307.18 L803 306.74 L802.5 305.52 L802 304.7 L801.5 304.35 L801 303.72 L800.5 302.96 L800 302.33 L799.5 301.39 L799 301.33 L798.5 299.71 L798 300.25 L797.5 298.65 L797 298.21 L796.5 297.95 L796 296.72 L795.5 295.38 L795 295.39 L794.5 294.11 L794 293.84 L793.5 292.82 L793 293.94 L792.5 291.34 L792 291.6 L791.5 290.65 L791 288.9 L790.5 288.76 L790 287.99 L789.5 285.59 L789 284.91 L788.5 284.46 L788 283.03 L787.5 281.07 L787 281.49 L786.5 279.99 L785.95 278.92 L785.4 278.95 L784.85 279.03 L784.3 278.44 L783.75 277.61 L783.2 276.82 L782.6 281.04 L782 284.94 L781.47 284.21 L780.94 283.86 L780.41 282.63 L779.88 281.94 L779.35 280.67 L778.82 279.82 L778.29 279.03 L777.76 278.82 L777.23 279.08 L776.7 277.18 L776.17 276.83 L775.64 275.5 L775.11 275.61 L774.59 274.09 L774.06 273.11 L773.53 273.18 L773 271.37 L772.4 289.08 L771.9 288.2 L771.4 286.49 L770.9 285.74 L770.4 285.77 L769.9 283.56 L769.32 283.81 L768.74 282.38 L768.16 281.96 L767.58 281.2 L767 280.79 L766.5 279.93 L766 279.36 L765.5 279.63 L765 278.23 L764.5 277.57 L764 276.92 L763.5 278.02 L763 277.56 L762.5 275.75 L762 277.12 L761.5 275.63 L761 274.52 L760.5 274.97 L760 273.91 L759.43 274.31 L758.87 273.31 L758.3 272.12 L757.73 271.96 L757.17 271.36 L756.6 271.38 L756.05 285.75 L755.5 297.98 L755 298.03 L754.5 296.4 L754 296.12 L753.5 294.64 L753 294.67 L752.48 294.68 L751.96 293.78 L751.43 292.41 L750.91 292.88 L750.39 291.82 L749.87 290.93 L749.34 289.13 L748.82 290.5 L748.3 289.14 L747.79 288.49 L747.27 287.9 L746.76 287.21 L746.25 286.88 L745.74 286.31 L745.23 285.21 L744.71 284.5 L744.2 283.39 L743.69 283.21 L743.17 282.55 L742.66 282.8 L742.14 281.89 L741.63 281.41 L741.11 280.34 L740.6 280.91 L740.1 299.44 L739.6 317.1 L739.1 317.11 L738.6 316.29 L738.1 315.09 L737.6 315.13 L737.1 314.44 L736.6 312.69 L736.1 312.85 L735.59 312.61 L735.08 312.55 L734.56 311.97 L734.05 311.41 L733.54 310.31 L733.02 309.68 L732.51 309.21 L732 309.04 L731.42 308.29 L730.85 307.8 L730.28 306.97 L729.7 307.24 L729.18 305.22 L728.66 305.83 L728.13 304.27 L727.61 303.69 L727.09 304.13 L726.57 303.1 L726.04 302.95 L725.52 302.57 L725 302.41 L724.5 300.89 L724 301.73 L723.5 300.25 L723 299.99 L722.5 298.92 L722 298.88 L721.5 297.95 L721 297.8 L720.5 296.72 L720 296.38 L719.5 294.83 L719 295.68 L718.5 293.83 L718 294.06 L717.5 293.7 L717 295.27 L716.5 297.49 L716 297 L715.5 296.43 L715 296.08 L714.5 294.43 L714 295.53 L713.5 293.94 L713 292.65 L712.5 292.5 L712 292.54 L711.5 291.37 L711 290.19 L710.5 290.44 L710 290.21 L709.5 288.11 L709 288.62 L708.5 286.78 L708 286.6 L707.6 326.34 L707.09 325.23 L706.57 324.99 L706.06 324.76 L705.54 323.41 L705.03 322.9 L704.51 322.44 L704 321.33 L703.5 321.19 L703 321.15 L702.5 319.03 L702 319.34 L701.5 318.48 L701 317.34 L700.5 315.4 L700 316.61 L699.5 315.92 L699 315.16 L698.5 314.2 L698 312.87 L697.5 312.21 L697 311.8 L696.5 311.49 L696 310.46 L695.5 310 L695 309.2 L694.5 313.82 L694 317.42 L693.5 316.81 L693 316.89 L692.5 315.23 L692 314.51 L691.5 314.61 L691 313.09 L690.45 311.53 L689.9 311.07 L689.35 310.54 L688.8 309.93 L688.15 312.59 L687.5 317.31 L687 316.49 L686.5 315.72 L686 315.65 L685.5 314.28 L685 313.79 L684.5 313.78 L684 312.42 L683.5 311.66 L683 310.58 L682.5 310.96 L682 310.75 L681.5 310.43 L681 309.56 L680.5 309.17 L680 308.8 L679.5 308.83 L679 307.22 L678.5 307.1 L678 307.03 L677.5 305.87 L677 305.67 L676.5 303.7 L676 304.07 L675.5 301.67 L675 301.86 L674.5 300.7 L674 299.8 L673.5 299.03 L673 297.83 L672.5 296.9 L672 296.05 L671.44 295 L670.88 294.13 L670.32 293.58 L669.76 292.54 L669.2 291.38 L668.5 305.86 L668 305.49 L667.5 305.03 L667 304.95 L666.5 303.66 L666 302.86 L665.5 302.01 L665 302.02 L664.5 301.47 L664 299.43 L663.5 299.87 L663 299.16 L662.5 298.65 L662 298.45 L661.5 297.33 L661 296.85 L660.5 294.56 L660 294.34 L659.5 292.89 L659 305.22 L658.5 302.6 L658 302.64 L657.5 302.04 L657 301.16 L656.5 299.51 L656 298.12 L655.5 297.91 L655 297.69 L654.5 296.78 L654 297.9 L653.5 299.11 L653 298.89 L652.5 298.02 L652 295.79 L651.5 297.4 L651 296.57 L650.5 296.26 L650 294.68 L649.5 293.89 L649 293.07 L648.5 292.49 L648 292.52 L647.5 290.57 L647 290 L646.5 289.52 L646 288.58 L645.5 287.91 L645 286.91 L644.5 287.04 L644 287.19 L643.5 285.36 L643 284.76 L642.5 284.03 L642 283.18 L641.5 282.34 L641 281.36 L640.5 281.52 L640 280.38 L639.5 280.43 L639 333.04 L638.5 331.95 L638 331.96 L637.5 329.83 L637 329.89 L636.5 329.05 L636 328.41 L635.5 326.57 L635 327.33 L634.5 326.03 L634 324.89 L633.5 324.32 L633 323.55 L632.5 323.03 L632 321.58 L631.5 320.98 L631 319.79 L630.5 320.03 L630 318.25 L629.5 317.66 L629 317.81 L628.5 315.48 L628 315.25 L627.5 314.91 L627 314.39 L626.5 314.06 L626 313.27 L625.5 313.82 L625 312.08 L624.5 312.47 L624 311.51 L623.5 313.47 L623 314.63 L622.5 315.66 L622 313.99 L621.5 313.44 L621 312.54 L620.5 311.43 L620 310.24 L619.5 310.43 L619 308.88 L618.5 306.91 L618 305.7 L617.5 304.09 L617 303.42 L616.5 303.37 L616 302.17 L615.5 302.02 L615 300.26 L614.5 298.54 L614 301.61 L613.5 302.95 L613 305.56 L612.5 305.25 L612 305.32 L611.5 304.33 L611 304.24 L610.5 302.75 L610 301.65 L609.5 300.73 L609 300.25 L608.5 300.07 L608 299.57 L607.5 299.17 L607 309.77 L606.5 309.01 L606 307.67 L605.5 308.01 L605 305.13 L604.5 304.03 L604 303.38 L603.5 303.2 L603 301.9 L602.5 301.91 L602 302.12 L601.5 300.74 L601 300.52 L600.5 299.83 L600 298.2 L599.5 298.59 L599 297.5 L598.5 295.77 L598 296.87 L597.2 325.03 L596.62 324.17 L596.05 323.75 L595.48 323.77 L594.9 322.8 L594.4 322.39 L593.9 321.13 L593.4 319.94 L592.9 318.8 L592.4 318 L591.9 316.05 L591.4 315.47 L590.82 313.95 L590.24 312.57 L589.66 311.34 L589.08 310.16 L588.5 308.95 L587.9 310.71 L587.3 313.87 L586.72 313.5 L586.15 313.16 L585.58 312.97 L585 313.05 L584.4 328.31 L583.82 327.39 L583.24 326.34 L582.66 325.87 L582.08 325.26 L581.5 324.54 L580.92 324.08 L580.34 322.78 L579.76 321.01 L579.18 320.46 L578.6 319.68 L578.09 318.09 L577.57 317.24 L577.06 316.21 L576.54 315.63 L576.03 313.63 L575.51 313.51 L575 313.02 L574.43 311.61 L573.87 311.2 L573.3 310.32 L572.73 308.42 L572.17 308.48 L571.6 307.19 L571.09 306.33 L570.58 306.31 L570.06 305.28 L569.55 304.67 L569.04 303.87 L568.52 302.14 L568.01 302.31 L567.5 301.93 L566.92 300.34 L566.34 298.86 L565.76 298.24 L565.18 296.1 L564.6 294.7 L564.02 293.98 L563.44 293.09 L562.86 290.79 L562.28 290.12 L561.7 289.02 L561.2 287.91 L560.7 287.56 L560.2 285.91 L559.7 285.54 L559.2 285.21 L558.7 283.07 L558.12 282.84 L557.54 283.42 L556.96 281.36 L556.38 281.12 L555.8 280.64 L555.2 290.58 L554.65 288.67 L554.1 287.57 L553.5 287.48 L552.9 286.24 L552.3 284.69 L551.5 305.66 L551 303.56 L550.5 303.79 L550 302.01 L549.5 300.55 L549 299.26 L548.5 297.85 L548 297.27 L547.5 296.63 L547 295.4 L546.5 294.83 L546 293.41 L545.5 297.84 L545 302.33 L544.5 301.29 L544 300.31 L543.5 299.91 L543 298.02 L542.5 297.65 L542 297.42 L541.5 296.05 L541 296.57 L540.5 294.78 L540 294.87 L539.5 294.18 L539 323.37 L538.5 320.91 L538 318.21 L537.5 318.45 L537 317.9 L536.5 317.9 L536 317.27 L535.5 317.34 L535 316.59 L534.5 315.44 L534 313.17 L533.5 313.02 L533 311.4 L532.5 310.01 L532 309.42 L531.5 308.98 L531 308.74 L530.5 307.58 L530 306.17 L529.5 317.23 L529 315.71 L528.5 316.08 L528 314.36 L527.5 314.2 L527 314.31 L526.5 313.58 L526 312.28 L525.5 311.2 L525 310.18 L524.5 310.23 L524 307.96 L523.5 306.77 L523 305.8 L522.5 305.04 L522 303.99 L521.5 302.83 L521 302.12 L520.5 300.98 L520 300.18 L519.5 315.53 L519 314.1 L518.5 313.27 L518 313.03 L517.5 311.74 L517 311.06 L516.5 309.76 L516 309.76 L515.5 309.66 L515 308.56 L514.5 308.43 L514 307.2 L513.5 308.64 L513 308.4 L512.5 309.49 L512 308.66 L511.5 307.25 L511 304.94 L510.5 304.61 L510 326.85 L509.5 326.14 L509 324.44 L508.5 322.62 L508 321.79 L507.5 320.74 L507 319.43 L506.5 317.93 L506 317.01 L505.5 316.27 L505 315.06 L504.5 314.24 L504 313.67 L503.5 310.4 L503 310.01 L502.5 309.45 L502 308.34 L501.5 306.78 L501 305.41 L500.5 304.64 L500 304.38 L499.5 303.56 L499 302.35 L498.5 301.38 L498 300.35 L497.5 299.25 L497 299.89 L496.5 297.65 L496 297.21 L495.5 296.12 L495 295.21 L494.5 295.1 L494 293.56 L493.5 293.43 L493 292.73 L492.5 292.6 L492 290.3 L491.5 291.36 L491 290.26 L490.5 306.6 L490 307.33 L489.5 305.02 L489 305.05 L488.5 304.27 L488 302.14 L487.5 301.92 L487 301.72 L486.5 299.35 L486 299.62 L485.5 298.04 L485 298.07 L484.5 297.35 L484 301.13 L483.5 303.86 L483 303.86 L482.5 302.53 L482 300.59 L481.5 300.05 L481 304.73 L480.5 309.98 L480 308.41 L479.5 305.87 L479 303.96 L478.5 303.84 L478 301.99 L477.5 301.02 L477 300.04 L476.5 298.74 L476 298.36 L475.5 297.39 L475 296.86 L474.5 298.06 L474 299.54 L473.5 299.88 L473 298.93 L472.5 298.38 L472 296.57 L471.5 300.88 L471 304.59 L470.5 302.59 L470 300.77 L469.5 300.49 L469 299.51 L468.5 297.53 L468 296.84 L467.5 295.53 L467 294 L466.5 293.72 L466 292.99 L465.5 291.56 L465 293.45 L464.5 295.44 L464 294.92 L463.5 293.52 L463 293.09 L462.5 293.94 L462 291.57 L461.5 290.2 L461 289.29 L460.5 287.78 L460 285.29 L459.5 287.04 L459 287.59 L458.5 288.04 L458 286.21 L457.5 284.69 L457 284.9 L456.5 283.62 L456 281.97 L455.5 282.92 L455 281.64 L454.5 280.74 L454 279.33 L453.5 277.71 L453 278.49 L452.5 276.31 L452 273.9 L451.5 274.32 L451 273 L450.5 272.37 L450 271.13 L449.5 269.13 L449 269.49 L448.5 268.21 L448 267.01 L447.5 266.06 L447 264.12 L446.6 262.6 L446.2 227.68 L446.2 262.41 L445.6 261.55 L445 260.69 L444.5 259.13 L444 257.64 L443.5 256.9 L443 254.99 L442.5 254.94 L442 252.8 L441.5 252.77 L441 250.99 L440.5 249.33 L440 250.18 L439.5 248.21 L439 247.77 L438.5 347.77 L438 345.89 L437.5 343.15 L436.99 342.5 L436.48 340.88 L435.97 340.57 L435.46 340.11 L434.94 339.18 L434.43 336.93 L433.92 337.13 L433.41 335.76 L432.9 334.95 L432.39 333.65 L431.88 332.47 L431.37 332.76 L430.86 331.79 L430.34 330.28 L429.83 330.12 L429.32 328.59 L428.81 327.48 L428.3 326.73 L427.76 325.11 L427.23 325.17 L426.69 322.99 L426.15 322.53 L425.61 321.57 L425.07 320.39 L424.54 318.18 L424 317.22 L423.5 317.59 L423 315.42 L422.5 315.42 L422 313.08 L421.5 313.07 L421 312.64 L420.5 311.36 L420 311.16 L419.5 309.51 L419 309.12 L418.5 309.41 L418 307.87 L417.5 307.37 L417 305.7 L416.5 304.53 L416 305.1 L415.5 305.47 L415 306.02 L414.5 306.67 L414 303.35 L413.5 302.39 L413 300.65 L412.5 302.54 L412 302.6 L411.5 303.19 L411 303.51 L410.5 302.2 L410 301.15 L409.5 300.57 L409 301.08 L408.5 301.85 L408 300.99 L407.5 298.52 L407 298.57 L406.5 302.14 L406 305 L405.5 304.62 L405 304.04 L404.5 302.12 L404 301.69 L403.5 300.53 L403 300.29 L402.5 298.5 L402 296.95 L401.5 294.12 L401 292.39 L400.5 291.01 L400 291.47 L399.5 292.83 L399 294.09 L398.5 292.6 L398 292.43 L397.5 290.96 L397 290.77 L396.5 305.47 L396 303.4 L395.5 302.94 L395 301.97 L394.5 302.11 L394 300.38 L393.5 299 L393 297.87 L392.5 296.66 L392 294.79 L391.5 293.9 L391 294.38 L390.5 292.24 L390 291.39 L389.44 289.72 L388.88 288.83 L388.32 288.51 L387.76 287.6 L387.2 285.48 L386.8 304 L386.2 301.28 L385.6 299.02 L385 295.13 L384.5 297.02 L384 297.5 L383.5 298.39 L383 297.1 L382.5 296.38 L382 295.96 L381.5 294.68 L381 294.25 L380.5 299.17 L380 304.21 L379.5 302.45 L379 301.41 L378.5 299.46 L378 297.5 L377.5 295.98 L377 294.89 L376.5 293.21 L376 290.49 L375.5 289.64 L375 288.6 L374.5 285.86 L374 287.13 L373.5 288.72 L373 292.01 L372.5 293.26 L372 291.53 L371.5 289.23 L371 288.18 L370.5 307.32 L370 306.01 L369.5 306.3 L369 305.26 L368.5 302.82 L368 301.5 L367.5 301.14 L367 299.39 L366.5 297.61 L366 297.11 L365.5 296.03 L365 294.21 L364.5 303.2 L364 312.66 L363.5 310.43 L363 307.85 L362.5 307.01 L362 308.45 L361.5 309.22 L361 311.19 L360.5 308.69 L360 307.21 L359.5 305.58 L359 304.01 L358.5 302.24 L358 302.9 L357.5 301.14 L357 300 L356.5 300.31 L356 298.26 L355.5 298.5 L355 297.82 L354.5 296.93 L354 295.56 L353.5 293.73 L353 293.04 L352.5 291.6 L352 290.52 L351.5 289.4 L351 289.94 L350.5 291.44 L350 291.93 L349.5 292.39 L349 291.88 L348.5 290.88 L348 290.49 L347.5 289.41 L346.93 287.75 L346.35 288.48 L345.77 286.39 L345.2 285.2 L344.5 301.87 L344 300.19 L343.5 298.33 L343 296.19 L342.5 294.88 L342 296.39 L341.5 297.32 L341 299.66 L340.5 298.2 L340 296.32 L339.5 296.32 L339 296.91 L338.5 298.31 L338 299.63 L337.5 298.61 L337 297.37 L336.5 295.32 L336 293.68 L335.5 291.98 L335 290.99 L334.5 290.07 L333.93 287.78 L333.35 286.76 L332.77 285.11 L332.2 283.62 L331.5 309.33 L331 307.61 L330.5 307.03 L330 307.55 L329.5 304.3 L329 303.12 L328.5 302.1 L328 301.12 L327.5 300.85 L327 302.76 L326.5 303.9 L326 300.7 L325.5 299.98 L325 300.52 L324.5 301.19 L324 302.88 L323.5 300.07 L323 299.29 L322.5 295.74 L322 299.21 L321.5 300.58 L321 301.81 L320.5 300.22 L320 297.68 L319.5 296.17 L319 297.72 L318.5 299.9 L318 302.24 L317.5 300.7 L317 300.17 L316.5 299.27 L316 297.22 L315.5 314.14 L315 312.78 L314.5 312.13 L314 311.73 L313.5 311.46 L313 310.06 L312.5 309.84 L312 309.47 L311.5 309.08 L311 307.37 L310.5 306.19 L310 305.26 L309.5 304.93 L309 304.61 L308.5 303.51 L308 301.93 L307.5 300.94 L307 299.72 L306.5 299.29 L306 298.66 L305.5 302.71 L305 307.02 L304.5 310.95 L304 309.88 L303.5 307.87 L303 312.02 L302.5 318.47 L302 317.17 L301.5 316.94 L301 317.04 L300.5 315.93 L300 315.15 L299.5 314.61 L299 314.54 L298.5 313.68 L298 311.12 L297.5 311.33 L297 310.02 L296.5 311.73 L296 314.21 L295.5 312.87 L295 311.68 L294.5 309.35 L294 310.6 L293.5 310.98 L293 311.44 L292.5 310.64 L292 309.62 L291.5 309.42 L291 308.89 L290.5 308.61 L290 305.81 L289.5 306.03 L289 305.02 L288.5 305.19 L288 304.45 L287.5 304.33 L287 304 L286.5 302.83 L286 303.26 L285.5 302.03 L285 301.32 L284.5 301.82 L284 301.37 L283.5 299.7 L283 299.15 L282.5 298.23 L282 297.21 L281.5 295.46 L281 294.69 L280.5 294.23 L280 293.36 L279.5 292.4 L279 292.75 L278.5 291.94 L278 290.59 L277.5 290.47 L277 290.23 L276.5 289.49 L276 289.3 L275.5 288.95 L275 288.37 L274.5 289.15 L274 300.85 L273.5 311.83 L273 312.14 L272.5 310.8 L272 311.79 L271.5 310.58 L271 310.91 L270.5 308.83 L270 308.95 L269.5 307.85 L269 308.08 L268.5 306.77 L268 306.08 L267.5 304.84 L267 304.75 L266.5 305.37 L266 303 L265.5 303.47 L265 302.65 L264.5 302.88 L264 302.68 L263.5 302.11 L263 302.66 L262.5 302.43 L262 302.98 L261.5 301.96 L261 303.3 L260.5 303.57 L260 303.21 L259.5 304.29 L259 304.82 L258.5 304.55 L258 305.16 L257.5 304.75 L257 304.85 L256.5 304.56 L256 303.24 L255.5 303.39 L255 302.35 L254.5 302.89 L254 302.06 L253.5 300.55 L253 301.02 L252.5 300.1 L252 298.94 L251.5 300.54 L251 298.79 L250.5 298.93 L250 299.74 L249.5 300.3 L249 301.64 L248.5 301.69 L248 302.09 L247.5 280.13 L247 280.73 L246.5 280.68 L246 280.67 L245.5 281.86 L245 281.88 L244.5 281.16 L244 282.3 L243.5 281.1 L243 281.05 L242.5 282.05 L242 282.27 L241.5 281.42 L241 281.38 L240.5 281.45 L240 281.01 L239.5 281.26 L239 281.48 L238.5 282.58 L238 282.8 L237.5 283.35 L237 282.38 L236.5 284.27 L236 284.9 L235.5 285.52 L235 287.13 L234.5 287.3 L234 287.75 L233.5 289.47 L233 290.74 L232.5 290.94 L232 291.29 L231.5 281.01 L231 281.35 L230.5 283.41 L230 284 L229.5 284.39 L229 285.38 L228.5 285.98 L228 286.33 L227.5 286.91 L227 288.11 L226.5 289.77 L226 289.15 L225.5 290.42 L225 286.62 L224.5 281.78 L224 278.69 L223.5 280.05 L223 282.05 L222.5 282.21 L222 284.76 L221.5 267.61 L221 268.59 L220.5 270.53 L220 271.01 L219.5 272.22 L219 273.65 L218.5 274.69 L218 275.94 L217.5 277.72 L217 277 L216.5 278.27 L216 278.14 L215.5 279.79 L215 259.99 L214.5 259.63 L214 260.35 L213.5 260.75 L213 261.2 L212.5 261.32 L212 261.75 L211.44 262.31 L210.88 264.32 L210.32 265.15 L209.76 265.97 L209.2 267.32 L208.5 255.37 L208 256.42 L207.5 257.54 L207 258.7 L206.5 260.11 L206 261.73 L205.5 263.11 L205 264.64 L204.45 265.44 L203.9 267.6 L203.35 268.64 L202.8 269.26 L202.5 245.25 L202 246.49 L201.5 246.61 L201 246.7 L200.5 248.75 L200 249.45 L199.5 250.84 L199 248.15 L198.5 246.25 L198 248.59 L197.5 250.56 L197 252.67 L196.5 253.58 L196 255.47 L195.5 252.88 L195 251.3 L194.45 254.07 L193.9 256.54 L193.35 259.74 L192.8 262.62 L192.2 233.9 Z" fill="#808080" fill-opacity="0.4" stroke="#808080" stroke-opacity="0.4" stroke-width="1.389" stroke-linejoin="round"/>
</g>
<path d="M192.5 72V534.5M361.5 72V534.5M531.5 72V534.5M700.5 72V534.5M869.5 72V534.5M1038.5 72V534.5M150 118.5H1080.5M150 211.5H1080.5M150 303.5H1080.5M150 395.5H1080.5M150 488.5H1080.5" fill="none" stroke="#b0b0b0" stroke-opacity="0.3" stroke-width="1.111" stroke-linecap="square"/>
<g clip-path="url(#c)">
<path d="M192.2 232.2 L192.8 260.16 L193.35 257.1 L193.9 254.01 L194.45 251.5 L195 248.45 L195.5 251.03 L196 253.74 L196.5 251.4 L197 249.99 L197.5 249.27 L198 246.7 L198.5 244.06 L199 245.99 L199.5 248.98 L200 248.05 L200.5 245.59 L201 244.75 L201.5 243.29 L202 242.96 L202.5 241.99 L202.8 267.87 L203.35 265.8 L203.9 265.15 L204.45 263.59 L205 261.9 L205.5 259.33 L206 259.13 L206.5 258.12 L207 256.92 L207.5 254.73 L208 254.02 L208.5 252.46 L209.2 264.56 L209.76 264.58 L210.32 262.56 L210.88 261.98 L211.44 261.49 L212 259.68 L212.5 259.52 L213 259.23 L213.5 258.79 L214 257.66 L214.5 257.96 L215 258.25 L215.5 276.65 L216 277.27 L216.5 276.17 L217 275.05 L217.5 275.8 L218 274.42 L218.5 272.05 L219 271.47 L219.5 270.46 L220 268.75 L220.5 267.95 L221 266.25 L221.5 265.37 L222 282.79 L222.5 280.13 L223 279.11 L223.5 277.25 L224 276.07 L224.5 279.35 L225 283.68 L225.5 287.89 L226 287.69 L226.5 287.03 L227 284.87 L227.5 284.36 L228 284.36 L228.5 282.19 L229 282.32 L229.5 281.8 L230 281.83 L230.5 280.81 L231 279.53 L231.5 278.8 L232 289.36 L232.5 289.46 L233 287.51 L233.5 286.71 L234 286.19 L234.5 285.1 L235 284.22 L235.5 282.89 L236 282.66 L236.5 281.59 L237 281.64 L237.5 281.03 L238 280.32 L238.5 280.37 L239 279.48 L239.5 279.91 L240 279 L240.5 279.32 L241 278.29 L241.5 279.19 L242 278.07 L242.5 277.88 L243 278.83 L243.5 278.51 L244 279.09 L244.5 280.09 L245 278.26 L245.5 278.23 L246 278.54 L246.5 278.56 L247 278.05 L247.5 277.89 L248 300.39 L248.5 299.59 L249 298.03 L249.5 297.86 L250 297.22 L250.5 295.92 L251 296.94 L251.5 296.63 L252 297.93 L252.5 297.81 L253 298.05 L253.5 298.17 L254 298.93 L254.5 298.4 L255 299.38 L255.5 300.7 L256 299.83 L256.5 301.97 L257 301.04 L257.5 302.25 L258 301.2 L258.5 301.93 L259 301.41 L259.5 300.32 L260 301.69 L260.5 301.42 L261 300.21 L261.5 299.72 L262 299.41 L262.5 299.05 L263 300.27 L263.5 299.45 L264 299.81 L264.5 299.48 L265 299.66 L265.5 299.92 L266 301.94 L266.5 301.79 L267 303.03 L267.5 303.13 L268 303.37 L268.5 304.2 L269 304.69 L269.5 305.5 L270 305.79 L270.5 306.34 L271 306.24 L271.5 307.06 L272 308.91 L272.5 308.13 L273 308.42 L273.5 309.69 L274 298.52 L274.5 285.2 L275 286.24 L275.5 286.37 L276 286.1 L276.5 287.83 L277 287.77 L277.5 288.18 L278 288.09 L278.5 289.33 L279 289.37 L279.5 290.17 L280 290.22 L280.5 290.75 L281 292.73 L281.5 292.72 L282 294.16 L282.5 294.98 L283 295.76 L283.5 296.72 L284 297.92 L284.5 297.98 L285 298.63 L285.5 299.3 L286 300.5 L286.5 300.8 L287 301.21 L287.5 301.19 L288 301.24 L288.5 303.02 L289 303.53 L289.5 303.42 L290 304.3 L290.5 305.1 L291 305.79 L291.5 306.51 L292 306.42 L292.5 308.17 L293 307.31 L293.5 308.14 L294 307.6 L294.5 307.48 L295 309.7 L295.5 311.15 L296 311.37 L296.5 308.57 L297 307.45 L297.5 307.44 L298 308.99 L298.5 310.46 L299 310.1 L299.5 310.84 L300 312.73 L300.5 313.19 L301 313.61 L301.5 314.35 L302 314.44 L302.5 314.67 L303 310.16 L303.5 304.47 L304 305.6 L304.5 308.28 L305 303.8 L305.5 299.89 L306 294.96 L306.5 296.05 L307 296.78 L307.5 297.76 L308 299.27 L308.5 299.65 L309 301.2 L309.5 302.1 L310 303.95 L310.5 302.98 L311 305.16 L311.5 305.53 L312 306.49 L312.5 306.27 L313 307.39 L313.5 308.62 L314 308.74 L314.5 309.4 L315 309.77 L315.5 311.14 L316 294.49 L316.5 294.41 L317 296.37 L317.5 296.79 L318 297.21 L318.5 296.88 L319 296.07 L319.5 293.53 L320 294.69 L320.5 296.65 L321 299.62 L321.5 297.59 L322 296.03 L322.5 294.47 L323 296.35 L323.5 298.61 L324 300.3 L324.5 298.95 L325 297.09 L325.5 296.78 L326 298.37 L326.5 301.6 L327 299.3 L327.5 298.92 L328 298 L328.5 298.56 L329 301.52 L329.5 302.66 L330 302.89 L330.5 304.85 L331 305.92 L331.5 305.56 L332.2 281.14 L332.77 282.47 L333.35 284.05 L333.93 284.91 L334.5 286.85 L335 288.33 L335.5 290.51 L336 291.47 L336.5 292.71 L337 294.98 L337.5 295.27 L338 296.79 L338.5 294.5 L339 294.86 L339.5 293.03 L340 294.34 L340.5 295.53 L341 296.56 L341.5 295.12 L342 293.36 L342.5 291.89 L343 293.65 L343.5 296.08 L344 297.18 L344.5 298.47 L345.2 282.18 L345.77 283.15 L346.35 285.38 L346.93 285.78 L347.5 286.54 L348 287.06 L348.5 287.39 L349 288.71 L349.5 289.98 L350 288.53 L350.5 287.88 L351 287.13 L351.5 286.56 L352 286.87 L352.5 288.87 L353 289.78 L353.5 291.99 L354 291.98 L354.5 293.62 L355 295.04 L355.5 294.93 L356 295.67 L356.5 296.94 L357 297.67 L357.5 297.95 L358 299.59 L358.5 301.28 L359 300.86 L359.5 302.76 L360 304.18 L360.5 306.8 L361 307.81 L361.5 306.39 L362 306.2 L362.5 303.5 L363 306.76 L363.5 309.17 L364 310.64 L364.5 301.8 L365 293.57 L365.5 293.64 L366 294.67 L366.5 295.51 L367 297.52 L367.5 299.56 L368 300.53 L368.5 300.68 L369 301.93 L369.5 303.32 L370 304.96 L370.5 305.89 L371 286.12 L371.5 288 L372 289.5 L372.5 291.48 L373 289.86 L373.5 287.95 L374 286.53 L374.5 285.53 L375 286.45 L375.5 287.78 L376 288.45 L376.5 291.21 L377 291.5 L377.5 293.37 L378 296.18 L378.5 297.67 L379 298.77 L379.5 299.49 L380 301.8 L380.5 296.88 L381 292.85 L381.5 294.44 L382 294.02 L382.5 294.17 L383 294.66 L383.5 295.97 L384 295.24 L384.5 294.03 L385 294.06 L385.6 296.2 L386.2 300.28 L386.8 303.08 L387.2 284.6 L387.76 284.84 L388.32 286.48 L388.88 287.23 L389.44 288.19 L390 289.31 L390.5 289.87 L391 290.87 L391.5 293.19 L392 293.73 L392.5 295.04 L393 296.55 L393.5 296.12 L394 297.71 L394.5 299.31 L395 300.5 L395.5 301.15 L396 302.99 L396.5 303.62 L397 287.83 L397.5 288.74 L398 290.44 L398.5 291.01 L399 290.46 L399.5 291.57 L400 290.5 L400.5 290.24 L401 291.12 L401.5 293 L402 294.38 L402.5 297.65 L403 297.4 L403.5 299.62 L404 299.64 L404.5 300.97 L405 300.83 L405.5 302.41 L406 304.04 L406.5 299.31 L407 297.09 L407.5 297.85 L408 298.26 L408.5 299.72 L409 299.25 L409.5 298.97 L410 298.21 L410.5 299.21 L411 300.67 L411.5 301.44 L412 300.46 L412.5 300.31 L413 299.99 L413.5 300.16 L414 302.5 L414.5 303.64 L415 303.21 L415.5 303.97 L416 302.97 L416.5 303.82 L417 303.74 L417.5 305.55 L418 306.37 L418.5 306.66 L419 307.97 L419.5 308.14 L420 309.13 L420.5 309.7 L421 310.05 L421.5 311.52 L422 312.53 L422.5 313.98 L423 313.9 L423.5 315.33 L424 315.35 L424.54 317.78 L425.07 317.96 L425.61 318.68 L426.15 320.77 L426.69 322.53 L427.23 322.21 L427.76 323.58 L428.3 324.89 L428.81 325.59 L429.32 327.33 L429.83 327.59 L430.34 328.55 L430.86 330.18 L431.37 330.35 L431.88 331.92 L432.39 332.05 L432.9 332.83 L433.41 333.41 L433.92 336.37 L434.43 336.09 L434.94 337.32 L435.46 338.09 L435.97 339.12 L436.48 339.98 L436.99 341.93 L437.5 341.23 L438 343.14 L438.5 345.64 L439 245.07 L439.5 247.24 L440 248.3 L440.5 248.35 L441 249.14 L441.5 250.73 L442 252.72 L442.5 251.42 L443 254.29 L443.5 254.66 L444 257.07 L444.5 257.16 L445 258.84 L445.6 259.17 L446.2 260.46 L446.2 225.76 L446.6 261.45 L447 262.78 L447.5 263.52 L448 263.96 L448.5 265.78 L449 266.98 L449.5 267.95 L450 268.95 L450.5 269.58 L451 271.36 L451.5 272.58 L452 274.51 L452.5 276.03 L453 275.92 L453.5 276.58 L454 277.96 L454.5 278.67 L455 279.34 L455.5 280.47 L456 280.68 L456.5 282.33 L457 282.82 L457.5 283.89 L458 284.52 L458.5 285.1 L459 284.81 L459.5 285.04 L460 284.7 L460.5 286.38 L461 287.5 L461.5 288 L462 290.04 L462.5 290.06 L463 291.26 L463.5 292.24 L464 292.06 L464.5 294.05 L465 292.08 L465.5 289.91 L466 290.77 L466.5 291.79 L467 292.46 L467.5 293.85 L468 294.7 L468.5 296.22 L469 296.67 L469.5 298.63 L470 299.75 L470.5 300.76 L471 301.76 L471.5 298.8 L472 294.08 L472.5 296.59 L473 297.8 L473.5 299.16 L474 297.88 L474.5 295.97 L475 294.86 L475.5 296.15 L476 296.84 L476.5 297.51 L477 297.37 L477.5 299.3 L478 301.06 L478.5 302.39 L479 303.38 L479.5 303.81 L480 306.6 L480.5 307.42 L481 301.61 L481.5 298.71 L482 298.8 L482.5 300.04 L483 301.53 L483.5 303.7 L484 299.05 L484.5 295.65 L485 297.21 L485.5 297.88 L486 297.69 L486.5 298.37 L487 298.68 L487.5 299.87 L488 301.36 L488.5 302.22 L489 302.94 L489.5 304.3 L490 304.2 L490.5 305.47 L491 288.9 L491.5 289.49 L492 290.42 L492.5 290.72 L493 291 L493.5 292.03 L494 291.95 L494.5 292.43 L495 294.49 L495.5 294.97 L496 296 L496.5 295.73 L497 297.3 L497.5 297.98 L498 298.65 L498.5 298.7 L499 300.57 L499.5 302.06 L500 302.58 L500.5 302.86 L501 303.99 L501.5 305.58 L502 304.82 L502.5 307.43 L503 308.97 L503.5 310.21 L504 311.94 L504.5 312.79 L505 313.51 L505.5 314.67 L506 316.1 L506.5 316.54 L507 317.98 L507.5 319.75 L508 321.58 L508.5 321.66 L509 322.97 L509.5 324.36 L510 326.24 L510.5 302.98 L511 305.18 L511.5 305.22 L512 307.02 L512.5 308.39 L513 308.1 L513.5 307.41 L514 305.17 L514.5 306.08 L515 307.35 L515.5 307.39 L516 307.5 L516.5 309.49 L517 309.77 L517.5 310.57 L518 310.84 L518.5 312.47 L519 312.57 L519.5 314.1 L520 297.5 L520.5 298.53 L521 300.11 L521.5 300.61 L522 302.37 L522.5 303.14 L523 303.49 L523.5 305.18 L524 306.09 L524.5 307.93 L525 308.22 L525.5 309.47 L526 311.52 L526.5 313.23 L527 313.68 L527.5 313.2 L528 313.87 L528.5 315.18 L529 314.85 L529.5 314.96 L530 304.56 L530.5 305.65 L531 305.84 L531.5 306.29 L532 307.31 L532.5 309.37 L533 309.78 L533.5 311.32 L534 312.72 L534.5 314.14 L535 314.82 L535.5 315.69 L536 315.34 L536.5 316.05 L537 316.1 L537.5 317.71 L538 317.49 L538.5 318.84 L539 320.81 L539.5 292.38 L540 293.47 L540.5 292.79 L541 293.68 L541.5 294.63 L542 296.81 L542.5 296.53 L543 296.84 L543.5 298.19 L544 299.83 L544.5 299.47 L545 300.3 L545.5 296.92 L546 292.27 L546.5 293.37 L547 293.72 L547.5 296.06 L548 296.94 L548.5 297.31 L549 298.38 L549.5 298.09 L550 300.75 L550.5 301.49 L551 303.04 L551.5 304.38 L552.3 284.01 L552.9 284.24 L553.5 286.34 L554.1 286.69 L554.65 287.82 L555.2 288.57 L555.8 278.81 L556.38 278.31 L556.96 280.83 L557.54 280.88 L558.12 281.93 L558.7 282.99 L559.2 282.78 L559.7 282.64 L560.2 284.01 L560.7 284.7 L561.2 285.96 L561.7 287.14 L562.28 287.3 L562.86 289.89 L563.44 290.17 L564.02 292.46 L564.6 293.54 L565.18 294.71 L565.76 296.12 L566.34 297.14 L566.92 298.38 L567.5 299.07 L568.01 300.63 L568.52 302.32 L569.04 303.04 L569.55 303.33 L570.06 303.64 L570.58 303.53 L571.09 305.34 L571.6 305.17 L572.17 306.05 L572.73 306.81 L573.3 307.9 L573.87 308.49 L574.43 309.57 L575 309.9 L575.51 311.28 L576.03 313.73 L576.54 313.42 L577.06 314.31 L577.57 315.72 L578.09 316.8 L578.6 316.79 L579.18 318.47 L579.76 320.27 L580.34 321.09 L580.92 322.19 L581.5 324.15 L582.08 323.51 L582.66 324.51 L583.24 324.75 L583.82 326.44 L584.4 325.13 L585 310.13 L585.58 310.48 L586.15 311.41 L586.72 311.66 L587.3 312.37 L587.9 308.43 L588.5 307.41 L589.08 308.24 L589.66 309.43 L590.24 311.5 L590.82 312.09 L591.4 312.86 L591.9 314.87 L592.4 315.32 L592.9 316.86 L593.4 318.49 L593.9 319.53 L594.4 321.3 L594.9 321.39 L595.48 321.38 L596.05 322.53 L596.62 323.17 L597.2 323.73 L598 294.74 L598.5 294.73 L599 294.58 L599.5 296.63 L600 296.77 L600.5 297.61 L601 298.06 L601.5 299.01 L602 299.35 L602.5 300.68 L603 300.9 L603.5 301.55 L604 302.23 L604.5 302.28 L605 304.08 L605.5 305.11 L606 306.45 L606.5 306.67 L607 309.4 L607.5 297.56 L608 297.42 L608.5 297.73 L609 299.1 L609.5 299.78 L610 300.02 L610.5 301.05 L611 301.25 L611.5 302.5 L612 302.4 L612.5 303.38 L613 304.54 L613.5 303.41 L614 299.45 L614.5 297.74 L615 298.34 L615.5 300.03 L616 299.77 L616.5 300.93 L617 301.98 L617.5 302.63 L618 303.81 L618.5 305.24 L619 305.51 L619.5 307.04 L620 308.77 L620.5 310.08 L621 310.9 L621.5 311.02 L622 312.74 L622.5 314.44 L623 313.14 L623.5 311.62 L624 310.01 L624.5 311.26 L625 311.01 L625.5 311.11 L626 311.73 L626.5 313.38 L627 313.12 L627.5 314.22 L628 313.9 L628.5 315.27 L629 315 L629.5 315.83 L630 317.87 L630.5 317.76 L631 317.89 L631.5 318.95 L632 320.01 L632.5 321.33 L633 321.23 L633.5 321.38 L634 323.01 L634.5 324.01 L635 324.89 L635.5 326.39 L636 326.67 L636.5 327.7 L637 327.39 L637.5 329.23 L638 330.65 L638.5 330.68 L639 331.14 L639.5 278.58 L640 279.98 L640.5 278.99 L641 279.94 L641.5 280.75 L642 281.41 L642.5 281.43 L643 282.5 L643.5 282.85 L644 283.73 L644.5 284.26 L645 284.37 L645.5 285.66 L646 286.82 L646.5 286.47 L647 287.53 L647.5 288.7 L648 288.41 L648.5 289.85 L649 289.92 L649.5 291.87 L650 293.27 L650.5 293.86 L651 293.38 L651.5 294.41 L652 294.57 L652.5 295.06 L653 296.35 L653.5 294.52 L654 295.58 L654.5 294.72 L655 295.27 L655.5 295.4 L656 295.73 L656.5 297.05 L657 298.1 L657.5 298.52 L658 299.6 L658.5 299.88 L659 299.83 L659.5 291 L660 291.78 L660.5 292.38 L661 293.24 L661.5 294.67 L662 294.75 L662.5 295.19 L663 296.06 L663.5 297.4 L664 296.57 L664.5 298.57 L665 298.15 L665.5 298.54 L666 300.48 L666.5 300.38 L667 300.36 L667.5 301.52 L668 302.87 L668.5 303.66 L669.2 288.77 L669.76 289.92 L670.32 290.79 L670.88 290.75 L671.44 292 L672 292.48 L672.5 293.21 L673 294.23 L673.5 295.54 L674 296.52 L674.5 297.19 L675 298.17 L675.5 299.91 L676 300.32 L676.5 301.59 L677 302.66 L677.5 302.92 L678 304.45 L678.5 303.35 L679 304.84 L679.5 304.83 L680 306.42 L680.5 306.74 L681 305.13 L681.5 306.07 L682 307.37 L682.5 307.93 L683 308.41 L683.5 308.46 L684 309.25 L684.5 309.86 L685 310.17 L685.5 311.5 L686 310.41 L686.5 312.72 L687 312.51 L687.5 314.33 L688.15 309.77 L688.8 305.51 L689.35 307.08 L689.9 307.25 L690.45 308.12 L691 308.64 L691.5 310.4 L692 311.61 L692.5 312.81 L693 313.09 L693.5 314.66 L694 315.01 L694.5 310.45 L695 306.32 L695.5 307.17 L696 306.98 L696.5 307.62 L697 308.24 L697.5 308.96 L698 309 L698.5 310.85 L699 310.85 L699.5 312.11 L700 312.19 L700.5 313.63 L701 314.43 L701.5 314.77 L702 316.71 L702.5 316.4 L703 317.78 L703.5 317.93 L704 317.64 L704.51 318.5 L705.03 319.67 L705.54 320.18 L706.06 320.88 L706.57 321.41 L707.09 321.29 L707.6 322.88 L708 281.78 L708.5 283.87 L709 283.93 L709.5 284.61 L710 285.55 L710.5 286.48 L711 286.21 L711.5 286.68 L712 287.7 L712.5 287.81 L713 289.04 L713.5 291.09 L714 290.28 L714.5 291.86 L715 291.37 L715.5 292.91 L716 293.2 L716.5 293.97 L717 292.06 L717.5 290.47 L718 290.18 L718.5 290.71 L719 290.68 L719.5 292.11 L720 292.22 L720.5 293.39 L721 293.48 L721.5 295.03 L722 293.56 L722.5 295.06 L723 296.28 L723.5 296.18 L724 296.51 L724.5 297.38 L725 297.34 L725.52 298.69 L726.04 300.49 L726.57 300.3 L727.09 299.58 L727.61 300.23 L728.13 301.01 L728.66 302.31 L729.18 301.83 L729.7 302.42 L730.28 303.86 L730.85 304.43 L731.42 304.32 L732 304.49 L732.51 304.76 L733.02 305.74 L733.54 305.41 L734.05 307.56 L734.56 307.32 L735.08 308.44 L735.59 309.72 L736.1 309.85 L736.6 309.15 L737.1 310.85 L737.6 311.59 L738.1 311.13 L738.6 311.6 L739.1 312.65 L739.6 312.42 L740.1 295.96 L740.6 275.68 L741.11 276.83 L741.63 277.74 L742.14 278.2 L742.66 278.86 L743.17 279.36 L743.69 279.54 L744.2 280.73 L744.71 279.57 L745.23 281.4 L745.74 281.66 L746.25 282.77 L746.76 283.47 L747.27 283.5 L747.79 284.3 L748.3 285.74 L748.82 286.14 L749.34 286.21 L749.87 288.36 L750.39 289.15 L750.91 287.72 L751.43 289.33 L751.96 291.19 L752.48 290.89 L753 291.22 L753.5 291.69 L754 292.2 L754.5 293.08 L755 293.6 L755.5 295.01 L756.05 280.83 L756.6 267.26 L757.17 267.29 L757.73 268.37 L758.3 268.36 L758.87 269.2 L759.43 270.32 L760 270.4 L760.5 270.96 L761 271.37 L761.5 271.69 L762 272.07 L762.5 272.46 L763 273.53 L763.5 273 L764 274.77 L764.5 274.48 L765 274.47 L765.5 275.05 L766 275.37 L766.5 276.26 L767 276.21 L767.58 277.93 L768.16 277.57 L768.74 277.45 L769.32 279 L769.9 279 L770.4 281.06 L770.9 282.64 L771.4 283.4 L771.9 283.28 L772.4 284.58 L773 269.48 L773.53 269.39 L774.06 269.93 L774.59 271.22 L775.11 272.71 L775.64 272.78 L776.17 272.86 L776.7 273.7 L777.23 274.59 L777.76 274.66 L778.29 275.17 L778.82 276.53 L779.35 276.73 L779.88 277.97 L780.41 278.8 L780.94 280.79 L781.47 279.78 L782 280.93 L782.6 276.91 L783.2 273.24 L783.75 274.16 L784.3 273.9 L784.85 274.3 L785.4 274.43 L785.95 275.41 L786.5 276.8 L787 277.48 L787.5 277.86 L788 279.17 L788.5 280.35 L789 281.57 L789.5 281.92 L790 283.07 L790.5 283.17 L791 284.49 L791.5 286.97 L792 285.84 L792.5 287.81 L793 288.81 L793.5 289.17 L794 289.62 L794.5 290.71 L795 291.43 L795.5 292.07 L796 291.77 L796.5 293.41 L797 293.71 L797.5 294.57 L798 295.68 L798.5 296.59 L799 297.42 L799.5 297.34 L800 298.81 L800.5 299.66 L801 300.35 L801.5 301.2 L802 301.07 L802.5 301.77 L803 303.03 L803.5 302.54 L804 304.12 L804.5 304.43 L805 305.23 L805.5 305.19 L806 306.37 L806.5 307.56 L807 308.78 L807.5 309.54 L808 309.69 L808.5 310.36 L809 310.74 L809.5 312.15 L810 312.53 L810.5 313.73 L811 315.1 L811.5 314.85 L812 314.78 L812.5 315.86 L813 316.26 L813.5 317.14 L814 319.25 L814.5 319.39 L815 319.16 L815.5 320.96 L816 321.89 L816.5 321.6 L817 322.03 L817.5 322.81 L818 323.76 L818.5 324.55 L819 325.45 L819.5 326.07 L820 326.65 L820.5 327.35 L821 327.56 L821.5 326.96 L822 328.33 L822.5 329.17 L823 329.36 L823.5 330.64 L824 330.52 L824.5 330.78 L825 332.65 L825.5 332.79 L826 333.12 L826.5 334.08 L827 334.73 L827.5 334.9 L828 333.93 L828.5 335.49 L829 336.18 L829.5 336.46 L830 337.8 L830.5 339.03 L831 338.8 L831.5 339.13 L832 341.55 L832.5 340.88 L833 341.13 L833.5 342.63 L834.3 275.93 L834.82 275.97 L835.35 277.46 L835.88 277.42 L836.4 277.84 L836.92 279.11 L837.45 280.1 L837.98 279.99 L838.5 281.18 L839 281.95 L839.5 284.55 L840 283.61 L840.5 285.76 L841 285.97 L841.5 286.93 L842 288.4 L842.5 289.49 L843 290.7 L843.5 290.87 L844 291.05 L844.5 291.77 L845 293.04 L845.5 293.76 L846 294.9 L846.5 295.05 L847 296.09 L847.5 297.03 L848 296.6 L848.5 296.01 L849 296.48 L849.5 296.65 L850 298.63 L850.5 297.6 L851 299.06 L851.5 299.01 L852 299.94 L852.5 300.39 L853 300.61 L853.5 301.39 L854 302.38 L854.5 303.26 L855 303.71 L855.5 304.82 L856 306.55 L856.5 305.56 L857 307.39 L857.5 307.5 L858 308.85 L858.5 309.96 L859 310.22 L859.5 311.43 L860 310.88 L860.5 313.11 L861 312.92 L861.5 314.34 L862 314.85 L862.5 314.08 L863 315.64 L863.5 316.74 L864 318.03 L864.5 317.89 L865 318.43 L865.5 318.07 L866 320.2 L866.5 320.96 L867 320.54 L867.5 320.96 L868 320.75 L868.5 322.69 L869 324.31 L869.5 323.84 L870 324.77 L870.5 325 L871 324.78 L871.5 326.69 L872 325.9 L872.5 327.08 L873 327.98 L873.5 328.94 L874 329.3 L874.5 329.91 L875 329.94 L875.5 330.32 L876 331.72 L876.5 331.96 L877 332.3 L877.5 332.99 L878 334.08 L878.5 333.99 L879 334.93 L879.5 335.44 L880 337.1 L880.5 337.72 L881 339.1 L881.5 337.68 L882 338.63 L882.5 340 L883 339.88 L883.5 340.32 L884 341.94 L884.5 341.31 L885 341.36 L885.5 341.78 L886 343.18 L886.5 344 L887 343.91 L887.5 344.96 L888 346.63 L888.5 347.48 L889 347.65 L889.5 349.14 L890 349.91 L890.5 349.42 L891 351.03 L891.5 352.23 L892 347.18 L892.5 341.82 L893 343.44 L893.5 344.61 L894 345.67 L894.5 344.2 L895 347.44 L895.5 346.05 L896 347.86 L896.5 348.68 L897 349.21 L897.5 349.42 L898 349.36 L898.5 350.84 L899 350.61 L899.5 350.11 L900 353.56 L900.5 352.89 L901 354 L901.5 353.5 L902 355.81 L902.5 356.87 L903 357.86 L903.5 357.99 L904 358.34 L904.5 350.4 L905 340.79 L905.5 341.73 L906 343.38 L906.5 343.45 L907 344.58 L907.5 345.27 L908 347.06 L908.5 347.55 L909 347.64 L909.5 349.16 L910 348.9 L910.5 349.98 L911 351.5 L911.5 351.15 L912 352.51 L912.5 352.77 L913 354.4 L913.5 356.06 L914 355.59 L914.5 356.91 L915 357.08 L915.5 357.72 L916 358.46 L916.5 360.73 L917 362.01 L917.5 361.77 L918 345.26 L918.5 330.19 L919 330.22 L919.5 331.44 L920 331.76 L920.5 332.35 L921 333.13 L921.5 333.08 L922 333.78 L922.5 333.8 L923 335.26 L923.5 335.47 L924 336.92 L924.5 337.22 L925 338.56 L925.5 339.5 L926 339.22 L926.5 340.3 L927 340.98 L927.5 342.66 L928 343.94 L928.5 344.22 L929 344.31 L929.5 346.06 L930 345.17 L930.5 347.57 L931 347.14 L931.5 346.72 L932 350.46 L932.5 350.62 L933 349.93 L933.5 351.34 L934 351.88 L934.5 352.81 L935 352.68 L935.5 353.88 L936 355.26 L936.5 355.87 L937 357.16 L937.5 357.29 L938 359.29 L938.58 358.11 L939.15 359.14 L939.72 358.45 L940.3 359.31 L941 312.73 L941.55 312.6 L942.1 314.53 L942.65 315.32 L943.2 315.89 L943.75 317.39 L944.3 318.42 L944.8 319.53 L945.3 321.31 L945.8 322.36 L946.3 322.78 L946.8 323.7 L947.3 325.46 L947.8 326.34 L948.3 328.07 L948.84 329.46 L949.38 328.96 L949.92 328.98 L950.46 329.41 L951 329.53 L951.54 330.2 L952.08 330.85 L952.62 331.88 L953.16 332.57 L953.7 333.91 L954.2 334.22 L954.7 335.27 L955.2 335.64 L955.7 338.15 L956.2 338.47 L956.7 340.11 L957.2 340.5 L957.7 341.82 L958.2 341.49 L958.7 342.64 L959.2 344.36 L959.7 342.83 L960.2 344.77 L960.7 345.68 L961.2 345.61 L961.7 346.42 L962.23 347.4 L962.76 347.03 L963.29 348.33 L963.82 348.31 L964.35 349.12 L964.88 349.85 L965.41 350.82 L965.94 351.68 L966.47 352.55 L967 352.2 L967.6 355.19 L968.2 355.8 L968.8 356.63 L969.4 357.1 L970.3 350.65 L970.87 352.23 L971.43 353.37 L972 353.4 L972.57 355.98 L973.13 358.43 L973.7 356.96 L974.23 359.41 L974.76 359.91 L975.29 360.49 L975.82 362.17 L976.35 361.58 L976.88 363.19 L977.41 364.78 L977.94 364.69 L978.47 365.41 L979 366.56 L979.8 308.25 L980.3 310.23 L980.8 309.7 L981.3 311.56 L981.8 311.22 L982.3 313.16 L982.8 313.58 L983.3 313.04 L983.8 315.3 L984.3 315.5 L984.8 316.65 L985.3 318.57 L985.8 317.87 L986.1 299.4 L986.5 320.81 L987 320.97 L987.5 322.67 L988.02 323.07 L988.55 323.48 L989.08 325.03 L989.6 326.85 L990.12 327.77 L990.65 328.33 L991.18 329.44 L991.7 330.44 L992.25 324.17 L992.8 319.59 L993.3 319.34 L993.8 319.53 L994.3 320.73 L994.8 322.24 L995.3 323.03 L995.8 323.42 L996.34 324.52 L996.88 326.31 L997.42 326.75 L997.96 328.36 L998.5 330.95 L999.1 325.73 L999.7 321.71 L1000.2 323.3 L1000.7 324.09 L1001.2 324.84 L1001.7 327.15 L1002.2 327.43 L1002.7 327.97 L1003.2 329.69 L1003.7 330.62 L1004.2 331.02 L1004.73 332.68 L1005.25 333.68 L1005.78 333.8 L1006.31 335.95 L1006.84 337.02 L1007.36 338.07 L1007.89 338.52 L1008.42 340.39 L1008.95 341.7 L1009.47 342.92 L1010 343.36 L1010.53 345.36 L1011.05 345.31 L1011.58 346.87 L1012.11 348.74 L1012.64 348.61 L1013.16 349.71 L1013.69 351.61 L1014.22 351.78 L1014.75 352.83 L1015.27 354.13 L1015.8 355.59 L1016.3 354.7 L1016.8 356.43 L1017.3 357.28 L1017.8 358.19 L1018.3 359.27 L1018.8 360.23 L1019.3 361.82 L1019.8 362.1 L1020.3 363.62 L1020.8 364.73 L1021.36 364.87 L1021.91 366.15 L1022.47 367.78 L1023.03 367.82 L1023.59 368.07 L1024.14 369.18 L1024.7 369.48 L1025.5 350.15 L1026.03 351.2 L1026.56 350.97 L1027.09 352.03 L1027.61 353.48 L1028.14 353.29 L1028.67 354.39 L1029.2 354.42 L1029.7 355.71 L1030.2 357.05 L1030.7 359.71 L1031.2 359.46 L1031.7 360.56 L1032.2 361.71 L1032.7 363.1 L1033.2 364.72 L1033.7 365.63 L1034.2 367.83 L1034.75 358.22 L1035.3 350.3 L1035.9 350.9 L1036.5 352.33 L1037.1 352.46 L1037.7 354.43" fill="none" stroke="#000" stroke-width="2.083" stroke-linejoin="round" stroke-linecap="square"/>
<path d="M192.2 232.19 L192.8 259.95 L193.35 256.82 L193.9 254.68 L194.45 251.67 L195 248.91 L195.5 250.95 L196 252.95 L196.5 251.75 L197 250.08 L197.5 248.81 L198 246.56 L198.5 244.03 L199 246.42 L199.5 248.89 L200 247.5 L200.5 246.32 L201 245.24 L201.5 244.12 L202 243.97 L202.5 243.17 L202.8 267.91 L203.35 266.66 L203.9 264.71 L204.45 263.15 L205 261.74 L205.5 260.63 L206 259.36 L206.5 258.04 L207 256.88 L207.5 255.14 L208 254.38 L208.5 252.72 L209.2 264.87 L209.76 263.92 L210.32 262.77 L210.88 261.73 L211.44 260.8 L212 260 L212.5 259.7 L213 259.28 L213.5 258.55 L214 258.18 L214.5 257.73 L215 257.59 L215.5 277.09 L216 277.05 L216.5 276 L217 275.24 L217.5 274.77 L218 274.21 L218.5 272.78 L219 271.64 L219.5 270.17 L220 269.1 L220.5 267.82 L221 266.27 L221.5 265.29 L222 282.03 L222.5 280.52 L223 278.82 L223.5 277.44 L224 276.16 L224.5 279.74 L225 284.13 L225.5 288.07 L226 287.26 L226.5 285.96 L227 285.58 L227.5 284.93 L228 283.85 L228.5 283.3 L229 282.1 L229.5 281.99 L230 281.01 L230.5 280.6 L231 279.35 L231.5 279.14 L232 289.45 L232.5 288.79 L233 287.56 L233.5 286.75 L234 286.45 L234.5 285 L235 284.19 L235.5 283.44 L236 282.46 L236.5 282.07 L237 281.35 L237.5 280.53 L238 279.99 L238.5 280.23 L239 279.89 L239.5 279.5 L240 279.23 L240.5 278.83 L241 278.97 L241.5 278.72 L242 278.72 L242.5 279.2 L243 278.87 L243.5 279.46 L244 279.01 L244.5 278.73 L245 278.87 L245.5 278.93 L246 278.53 L246.5 278.04 L247 278.22 L247.5 278.28 L248 299.9 L248.5 299.15 L249 298.8 L249.5 297.93 L250 296.98 L250.5 296.42 L251 296.65 L251.5 297.16 L252 297.42 L252.5 297.93 L253 298.14 L253.5 298.19 L254 299.08 L254.5 299.68 L255 300.09 L255.5 300.71 L256 300.89 L256.5 301.31 L257 302.19 L257.5 301.62 L258 301.23 L258.5 301.71 L259 301.19 L259.5 301.11 L260 300.72 L260.5 300.36 L261 300.02 L261.5 299.8 L262 299.57 L262.5 299.12 L263 299.82 L263.5 299.51 L264 299.62 L264.5 300.05 L265 299.99 L265.5 300.32 L266 301.62 L266.5 301.7 L267 302.55 L267.5 303.16 L268 304.03 L268.5 304.28 L269 305.2 L269.5 305.35 L270 306.22 L270.5 306.35 L271 306.93 L271.5 307.88 L272 308.06 L272.5 308.52 L273 309.45 L273.5 309.57 L274 297.59 L274.5 286.15 L275 286.12 L275.5 286.94 L276 287.31 L276.5 287.31 L277 287.66 L277.5 288.18 L278 288.5 L278.5 288.89 L279 289.78 L279.5 289.84 L280 290.75 L280.5 291.34 L281 291.95 L281.5 293.06 L282 293.75 L282.5 295.12 L283 295.96 L283.5 296.87 L284 297.3 L284.5 297.91 L285 298.79 L285.5 299.09 L286 299.87 L286.5 300.64 L287 301.21 L287.5 301.81 L288 301.94 L288.5 302.28 L289 303.2 L289.5 303.56 L290 304.22 L290.5 304.67 L291 305.57 L291.5 306.17 L292 306.81 L292.5 307.43 L293 308.08 L293.5 307.71 L294 307.38 L294.5 307.2 L295 308.56 L295.5 310.68 L296 311.98 L296.5 309.7 L297 306.98 L297.5 307.95 L298 309.41 L298.5 309.94 L299 310.74 L299.5 311.86 L300 312.52 L300.5 313.6 L301 313.79 L301.5 314.52 L302 314.72 L302.5 315.57 L303 310.38 L303.5 305.36 L304 306.36 L304.5 308.12 L305 303.89 L305.5 299.46 L306 295.5 L306.5 296.36 L307 296.87 L307.5 298.37 L308 299.27 L308.5 300 L309 300.73 L309.5 302.21 L310 302.89 L310.5 303.95 L311 304.95 L311.5 305.48 L312 306.66 L312.5 307.02 L313 307.63 L313.5 308.2 L314 308.79 L314.5 309.58 L315 309.95 L315.5 310.47 L316 294.44 L316.5 295.69 L317 296.57 L317.5 297.77 L318 298.99 L318.5 297.05 L319 295.31 L319.5 293.38 L320 295.73 L320.5 297.43 L321 299.09 L321.5 297.49 L322 296.44 L322.5 294.56 L323 296.32 L323.5 298.23 L324 300.06 L324.5 299.12 L325 297.66 L325.5 296.92 L326 298.57 L326.5 301.14 L327 299.8 L327.5 299.36 L328 297.93 L328.5 299.27 L329 300.76 L329.5 302.11 L330 302.92 L330.5 304.36 L331 305.44 L331.5 307.03 L332.2 280.98 L332.77 282.43 L333.35 283.86 L333.93 285.42 L334.5 286.85 L335 288.53 L335.5 290.16 L336 290.9 L336.5 292.69 L337 294.06 L337.5 295.67 L338 296.81 L338.5 295.47 L339 293.79 L339.5 292.64 L340 293.85 L340.5 295.13 L341 296.57 L341.5 294.95 L342 293.19 L342.5 292.12 L343 293.68 L343.5 295.22 L344 297.07 L344.5 298.74 L345.2 282.28 L345.77 283.34 L346.35 284.81 L346.93 285.78 L347.5 286.35 L348 287.01 L348.5 287.87 L349 288.65 L349.5 289.18 L350 288.76 L350.5 287.74 L351 287.01 L351.5 286.68 L352 287.61 L352.5 288.99 L353 290.38 L353.5 291.66 L354 292.33 L354.5 293.31 L355 294.03 L355.5 295.45 L356 296.13 L356.5 296.61 L357 297.67 L357.5 298.64 L358 299.43 L358.5 300.53 L359 301.27 L359.5 302.77 L360 304.73 L360.5 306.37 L361 308.55 L361.5 307.03 L362 306.04 L362.5 304.02 L363 305.75 L363.5 308.2 L364 310.52 L364.5 301.25 L365 292.33 L365.5 293.68 L366 295.07 L366.5 296.22 L367 297.32 L367.5 298.91 L368 299.89 L368.5 301.1 L369 302.12 L369.5 303.44 L370 304.93 L370.5 305.68 L371 285.99 L371.5 287.98 L372 289.59 L372.5 291.55 L373 289.53 L373.5 288.26 L374 286.47 L374.5 284.55 L375 285.77 L375.5 287.54 L376 289.57 L376.5 291.34 L377 292.63 L377.5 294.39 L378 295.59 L378.5 297.25 L379 298.86 L379.5 300.51 L380 301.69 L380.5 297.44 L381 292.76 L381.5 292.97 L382 293.63 L382.5 294.67 L383 295.17 L383.5 295.53 L384 295.5 L384.5 294.7 L385 293.9 L385.6 297.26 L386.2 299.69 L386.8 302.35 L387.2 284.02 L387.76 284.89 L388.32 286.05 L388.88 287.38 L389.44 288.29 L390 289.41 L390.5 290.92 L391 291.84 L391.5 292.91 L392 293.94 L392.5 295.01 L393 296.29 L393.5 297.07 L394 298.51 L394.5 299.02 L395 300.23 L395.5 301.08 L396 302.36 L396.5 303.6 L397 288.79 L397.5 289.12 L398 290 L398.5 290.68 L399 291.35 L399.5 290.6 L400 290.18 L400.5 289.15 L401 291.36 L401.5 293.17 L402 294.87 L402.5 296.05 L403 297.22 L403.5 299.12 L404 299.73 L404.5 301.19 L405 301.87 L405.5 302.55 L406 303.27 L406.5 300.21 L407 296.85 L407.5 297.48 L408 298.77 L408.5 300.21 L409 299.57 L409.5 299.4 L410 298.39 L410.5 299.78 L411 300.58 L411.5 302.42 L412 301.02 L412.5 299.89 L413 299.47 L413.5 300.97 L414 302.88 L414.5 303.93 L415 303.75 L415.5 303.62 L416 303.57 L416.5 302.99 L417 304.37 L417.5 305.44 L418 306.44 L418.5 307.09 L419 307.66 L419.5 308.04 L420 309.04 L420.5 309.45 L421 310.88 L421.5 311.77 L422 312.48 L422.5 313.3 L423 314.35 L423.5 315.44 L424 316.45 L424.54 317.48 L425.07 318.75 L425.61 319.56 L426.15 320.85 L426.69 321.61 L427.23 323.2 L427.76 324.21 L428.3 325.22 L428.81 326.44 L429.32 327.26 L429.83 327.47 L430.34 328.95 L430.86 329.56 L431.37 330.98 L431.88 332.18 L432.39 332.49 L432.9 333.51 L433.41 334.37 L433.92 335.41 L434.43 336.4 L434.94 337.45 L435.46 337.91 L435.97 339.35 L436.48 339.77 L436.99 340.93 L437.5 342.03 L438 344.14 L438.5 346.01 L439 245.66 L439.5 246.73 L440 247.84 L440.5 249.1 L441 249.64 L441.5 251.02 L442 252.07 L442.5 253.09 L443 254.09 L443.5 255.55 L444 256.6 L444.5 257.92 L445 259.11 L445.6 240.36 L446.2 220.62 L446.2 221.26 L446.6 260.95 L447 262.94 L447.5 263.81 L448 264.63 L448.5 265.92 L449 266.86 L449.5 268.1 L450 268.71 L450.5 270.49 L451 271.45 L451.5 272.55 L452 273.66 L452.5 274.84 L453 275.77 L453.5 276.89 L454 278 L454.5 278.96 L455 279.47 L455.5 280.45 L456 281.07 L456.5 282.03 L457 283.25 L457.5 283.88 L458 284.56 L458.5 285.18 L459 285.05 L459.5 284.83 L460 285.15 L460.5 286.1 L461 287.51 L461.5 288.63 L462 290.02 L462.5 291.08 L463 291.46 L463.5 292.33 L464 293.04 L464.5 294.17 L465 291.79 L465.5 289.77 L466 290.72 L466.5 291.72 L467 293.09 L467.5 294.51 L468 294.8 L468.5 296.36 L469 297.38 L469.5 298.28 L470 299.61 L470.5 300.79 L471 301.86 L471.5 298.89 L472 294.62 L472.5 296.41 L473 297.73 L473.5 298.88 L474 297.7 L474.5 296.51 L475 295.03 L475.5 295.88 L476 296.74 L476.5 296.99 L477 298.5 L477.5 299.46 L478 300.61 L478.5 302.04 L479 302.97 L479.5 304.64 L480 305.92 L480.5 307.38 L481 303.19 L481.5 298.34 L482 299.6 L482.5 300.37 L483 301.84 L483.5 303.02 L484 299.11 L484.5 295.36 L485 296.63 L485.5 296.76 L486 297.54 L486.5 298.34 L487 299.61 L487.5 300.67 L488 301.19 L488.5 301.86 L489 302.79 L489.5 303.96 L490 304.44 L490.5 305.79 L491 288.78 L491.5 289.18 L492 289.96 L492.5 290.65 L493 291.48 L493.5 291.62 L494 292.74 L494.5 293.26 L495 294.01 L495.5 295.02 L496 295.79 L496.5 296.47 L497 297.18 L497.5 298.12 L498 299.42 L498.5 300.33 L499 300.88 L499.5 301.8 L500 302.27 L500.5 303.17 L501 304.06 L501.5 304.95 L502 306.14 L502.5 307.52 L503 308.6 L503.5 309.62 L504 311.08 L504.5 312.11 L505 313.54 L505.5 314.5 L506 315.61 L506.5 316.86 L507 317.97 L507.5 319.12 L508 320.42 L508.5 321.9 L509 323.13 L509.5 324.51 L510 325.16 L510.5 302.92 L511 304.29 L511.5 305.78 L512 307.03 L512.5 308.4 L513 307.82 L513.5 306.87 L514 305.77 L514.5 306.85 L515 307.37 L515.5 307.64 L516 308.5 L516.5 308.77 L517 309.73 L517.5 310.26 L518 310.94 L518.5 311.83 L519 312.55 L519.5 313.54 L520 298.04 L520.5 299.01 L521 299.89 L521.5 300.27 L522 302.02 L522.5 302.62 L523 304.05 L523.5 305.37 L524 306.34 L524.5 307.35 L525 308.54 L525.5 309.69 L526 310.75 L526.5 311.88 L527 312.4 L527.5 313.4 L528 313.75 L528.5 314.52 L529 314.87 L529.5 315.51 L530 304.47 L530.5 305.49 L531 306.47 L531.5 307.25 L532 307.97 L532.5 308.84 L533 310.53 L533.5 311.34 L534 312.54 L534.5 314.09 L535 315.22 L535.5 315.52 L536 315.75 L536.5 316.72 L537 316.75 L537.5 317.19 L538 317.47 L538.5 318.97 L539 320.73 L539.5 292.58 L540 293.16 L540.5 293.62 L541 294.02 L541.5 294.55 L542 295.35 L542.5 295.71 L543 297.08 L543.5 298.03 L544 299.27 L544.5 299.78 L545 300.38 L545.5 296.08 L546 291.31 L546.5 292.88 L547 293.96 L547.5 295.19 L548 296.12 L548.5 297.12 L549 298.04 L549.5 299.33 L550 300.69 L550.5 301.39 L551 302.71 L551.5 303.72 L552.3 284.52 L552.9 285.43 L553.5 286.28 L554.1 286.86 L554.65 288.03 L555.2 288.85 L555.8 279.02 L556.38 279.54 L556.96 280.26 L557.54 280.66 L558.12 281.49 L558.7 281.95 L559.2 282.71 L559.7 283.61 L560.2 284.41 L560.7 285.53 L561.2 286.18 L561.7 287.16 L562.28 288.32 L562.86 289.4 L563.44 291.18 L564.02 292.09 L564.6 293.74 L565.18 294.96 L565.76 295.83 L566.34 297.25 L566.92 298.62 L567.5 299.84 L568.01 300.41 L568.52 301.45 L569.04 301.9 L569.55 302.68 L570.06 303.16 L570.58 303.96 L571.09 304.4 L571.6 305.19 L572.17 306.2 L572.73 306.98 L573.3 307.76 L573.87 308.52 L574.43 309.65 L575 310.57 L575.51 311.43 L576.03 312.32 L576.54 313.57 L577.06 314.94 L577.57 315.37 L578.09 316.48 L578.6 317.48 L579.18 318.07 L579.76 319.78 L580.34 320.8 L580.92 322.4 L581.5 323.25 L582.08 323.72 L582.66 324.42 L583.24 325.07 L583.82 325.51 L584.4 326.19 L585 310.23 L585.58 310.73 L586.15 311.21 L586.72 311.72 L587.3 311.74 L587.9 309.35 L588.5 307.24 L589.08 308.6 L589.66 310.13 L590.24 311.42 L590.82 312.58 L591.4 314.05 L591.9 315.11 L592.4 316.2 L592.9 317.25 L593.4 318.13 L593.9 318.94 L594.4 320.29 L594.9 321.09 L595.48 322.24 L596.05 322.95 L596.62 323.34 L597.2 324.54 L598 294.67 L598.5 295.1 L599 296 L599.5 296.62 L600 296.59 L600.5 297.62 L601 298.09 L601.5 298.75 L602 299.52 L602.5 299.86 L603 300.55 L603.5 301.17 L604 301.85 L604.5 303.06 L605 303.88 L605.5 305.04 L606 306.45 L606.5 307.4 L607 308.58 L607.5 297.12 L608 297.93 L608.5 298.56 L609 299.26 L609.5 299.72 L610 300.6 L610.5 300.99 L611 301.6 L611.5 302.2 L612 302.94 L612.5 303.31 L613 304.22 L613.5 302.09 L614 300.03 L614.5 298.01 L615 298.9 L615.5 299.8 L616 300.59 L616.5 301.28 L617 302.18 L617.5 303.19 L618 304.58 L618.5 305.49 L619 306.25 L619.5 308.1 L620 309.02 L620.5 309.77 L621 310.96 L621.5 311.82 L622 313.42 L622.5 314.1 L623 312.52 L623.5 311.78 L624 310.42 L624.5 311.3 L625 311.12 L625.5 311.3 L626 312.18 L626.5 312.51 L627 312.92 L627.5 313.16 L628 314.25 L628.5 315.08 L629 314.95 L629.5 316.15 L630 316.39 L630.5 317.8 L631 318.25 L631.5 318.96 L632 320.05 L632.5 320.77 L633 321.38 L633.5 322.48 L634 323.06 L634.5 323.64 L635 325.24 L635.5 325.6 L636 326.38 L636.5 327.32 L637 327.69 L637.5 328.48 L638 329.4 L638.5 330.15 L639 331.01 L639.5 278.72 L640 278.91 L640.5 279.6 L641 280.12 L641.5 280.28 L642 281.05 L642.5 281.48 L643 282.55 L643.5 283.09 L644 283.67 L644.5 284.07 L645 285.02 L645.5 285.51 L646 286.47 L646.5 286.98 L647 287.5 L647.5 288.52 L648 289.14 L648.5 289.63 L649 290.73 L649.5 291.19 L650 291.94 L650.5 292.77 L651 293.35 L651.5 293.91 L652 294.47 L652.5 295.31 L653 295.8 L653 295.2 L653.2 268.32 L653.8 267.99 L654 295.33 L654.5 295.05 L655 294.56 L655.5 295.78 L656 296.15 L656.5 296.66 L657 297.96 L657.5 298.42 L658 299.27 L658.5 299.57 L659 301.2 L659.5 290.66 L660 291.56 L660.5 292.5 L661 293.54 L661.5 294.09 L662 295.19 L662.5 295.43 L663 296.1 L663.5 296.96 L664 297.41 L664.5 297.65 L665 298.57 L665.5 299.11 L666 299.62 L666.5 300.52 L667 300.99 L667.5 301.4 L668 302.13 L668.5 303.35 L669.2 288.7 L669.76 289.74 L670.32 290.52 L670.88 291.23 L671.44 291.55 L672 292.44 L672.5 293.53 L673 294.66 L673.5 295.37 L674 296.27 L674.5 297.7 L675 298.62 L675.5 299.37 L676 300.08 L676.5 301.18 L677 302.02 L677.5 302.77 L678 302.95 L678.5 303.82 L679 304.37 L679.5 304.78 L680 305.44 L680.5 305.81 L681 306.12 L681.5 306.68 L682 306.72 L682.5 307.49 L683 308.09 L683.5 308.56 L684 309.22 L684.5 309.26 L685 309.92 L685.5 310.98 L686 311.74 L686.5 312.79 L687 313.21 L687.5 313.63 L688.15 310.06 L688.8 305.83 L689.35 306.57 L689.9 308.26 L690.45 308.67 L691 309.62 L691.5 310.49 L692 311.65 L692.5 312.25 L693 313.34 L693.5 313.8 L694 314.63 L694.5 310.68 L695 306.18 L695.5 306.56 L696 307.07 L696.5 307.63 L697 308.03 L697.5 309.05 L698 309.45 L698.5 310.19 L699 310.94 L699.5 311.85 L700 312.51 L700.5 313.33 L701 313.72 L701.5 314.83 L702 315.76 L702.5 315.8 L703 316.47 L703.5 317.26 L704 317.86 L704.51 318.5 L705.03 318.75 L705.54 319.88 L706.06 320.25 L706.57 321.02 L707.09 322 L707.6 322.53 L708 282.74 L708.5 283.86 L709 284.05 L709.5 284.69 L710 285.02 L710.5 285.73 L711 286.3 L711.5 287.03 L712 287.55 L712.5 288.27 L713 288.99 L713.5 289.47 L714 290.01 L714.5 290.66 L715 291.63 L715.5 292.17 L716 292.97 L716.5 293.59 L717 291.05 L717.5 288.99 L718 289.13 L718.5 290.44 L719 290.79 L719.5 291.07 L720 291.44 L720.5 292.31 L721 292.42 L721.5 293.22 L722 294.1 L722.5 294.54 L723 295 L723.5 295.86 L724 296.04 L724.5 296.87 L725 297.29 L725.52 297.74 L726.04 298.53 L726.57 298.76 L727.09 299.86 L727.61 299.88 L728.13 300.92 L728.66 300.82 L729.18 301.68 L729.7 301.84 L730.28 302.39 L730.85 303.26 L731.42 303.94 L732 304.13 L732.51 305.13 L733.02 305.24 L733.54 305.94 L734.05 306.5 L734.56 307.06 L735.08 307.09 L735.59 308.29 L736.1 308.59 L736.6 308.97 L737.1 309.44 L737.6 309.89 L738.1 310.54 L738.6 311.51 L739.1 311.91 L739.6 312.34 L740.1 294.31 L740.6 276.58 L741.11 276.64 L741.63 277.03 L742.14 277.86 L742.66 278.13 L743.17 278.48 L743.69 278.8 L744.2 279.05 L744.71 279.77 L745.23 280.56 L745.74 281.26 L746.25 282.03 L746.76 282.72 L747.27 283.3 L747.79 283.95 L748.3 284.35 L748.82 284.77 L749.34 285.74 L749.87 286.29 L750.39 287 L750.91 287.72 L751.43 288.17 L751.96 288.84 L752.48 289.68 L753 290.37 L753.5 290.91 L754 291.84 L754.5 292.4 L755 292.94 L755.5 293.85 L756.05 280.67 L756.6 266.6 L757.17 267.42 L757.73 267.91 L758.3 268.39 L758.87 268.37 L759.43 269.39 L760 269.46 L760.5 269.87 L761 270.36 L761.5 271.01 L762 271.38 L762.5 271.82 L763 272.6 L763.5 272.68 L764 273.05 L764.5 273.84 L765 274.25 L765.5 274.76 L766 274.75 L766.5 275.61 L767 275.92 L767.58 276.87 L768.16 276.97 L768.74 277.96 L769.32 278.56 L769.9 279 L770.4 280.15 L770.9 281.5 L771.4 282.16 L771.9 283.09 L772.4 284.39 L773 267.91 L773.53 268.62 L774.06 268.98 L774.59 269.84 L775.11 270.77 L775.64 271.15 L776.17 271.84 L776.7 272.87 L777.23 273.77 L777.76 273.97 L778.29 274.43 L778.82 275.41 L779.35 276.25 L779.88 277.17 L780.41 278.07 L780.94 278.67 L781.47 279.31 L782 280.23 L782.6 276 L783.2 272.19 L783.75 272.65 L784.3 273.9 L784.85 274.11 L785.4 274.36 L785.95 274.91 L786.5 275.6 L787 276.32 L787.5 277.46 L788 278.41 L788.5 279.7 L789 280.39 L789.5 281.28 L790 282.12 L790.5 283.11 L791 284.29 L791.5 285.22 L792 286.45 L792.5 287.05 L793 288.08 L793.5 288.6 L794 289.24 L794.5 289.52 L795 290.35 L795.5 291.44 L796 292.26 L796.5 292.71 L797 293.5 L797.5 293.96 L798 294.65 L798.5 295.28 L799 296.29 L799.5 296.85 L800 297.42 L800.5 298.11 L801 299 L801.5 299.67 L802 300.15 L802.5 301.37 L803 301.79 L803.5 302.46 L804 303.46 L804.5 304.08 L805 304.57 L805.5 305.41 L806 305.8 L806.5 306.6 L807 306.99 L807.5 308.4 L808 308.51 L808.5 309.76 L809 310.19 L809.5 310.89 L810 311.78 L810.5 312.6 L811 313.4 L811.5 314.37 L812 314.82 L812.5 315.66 L813 316.09 L813.5 317.09 L814 317.71 L814.5 318.32 L815 319.12 L815.5 319.73 L816 320.38 L816.5 321.02 L817 321.44 L817.5 321.99 L818 322.89 L818.5 323 L819 323.81 L819.5 324.84 L820 324.59 L820.5 325.59 L821 326.47 L821.5 326.6 L822 328.05 L822.5 327.61 L823 328.99 L823.5 329.58 L824 330.02 L824.5 330.37 L825 331.05 L825.5 331.37 L826 332.29 L826.5 332.47 L827 333.21 L827.5 334.03 L828 334.18 L828.5 334.9 L829 335.58 L829.5 335.85 L830 337.04 L830.5 337.56 L831 337.87 L831.5 338.85 L832 339.4 L832.5 340.11 L833 340.94 L833.5 341.47 L834.3 275 L834.82 275.33 L835.35 276.33 L835.88 276.79 L836.4 277.63 L836.92 278.01 L837.45 278.68 L837.98 279.21 L838.5 280.22 L839 281.29 L839.5 282.52 L840 283.36 L840.5 284.15 L841 285.06 L841.5 286.18 L842 287.09 L842.5 288.39 L843 289.28 L843.5 289.62 L844 290.33 L844.5 291.43 L845 291.91 L845.5 292.49 L846 293.46 L846.5 293.83 L847 294.54 L847.5 295.2 L848 295.21 L848.5 296.08 L849 295.98 L849.5 296.41 L850 296.69 L850.5 297.29 L851 297.45 L851.5 297.77 L852 297.74 L852.5 298.9 L853 299.45 L853.5 300.64 L854 301.48 L854.5 302.24 L855 303.48 L855.5 304.01 L856 304.86 L856.5 305.6 L857 306.28 L857.5 307.26 L858 308.04 L858.5 308.31 L859 309.53 L859.5 310.17 L860 311.01 L860.5 311.66 L861 312.07 L861.5 312.83 L862 314.18 L862.5 314.61 L863 314.84 L863.5 315.75 L864 316.16 L864.5 316.42 L865 316.89 L865.5 317.59 L866 318.52 L866.5 319.01 L867 319.53 L867.5 320.19 L868 320.82 L868.5 320.83 L869 321.82 L869.5 322.34 L870 322.88 L870.5 323.64 L871 324.35 L871.5 324.94 L872 325.33 L872.5 326.15 L873 327.27 L873.5 327.28 L874 327.78 L874.5 328.8 L875 329.52 L875.5 330.16 L876 330.51 L876.5 331.59 L877 331.9 L877.5 332.49 L878 333.26 L878.5 334.02 L879 334.85 L879.5 335.5 L880 336.03 L880.5 336.72 L881 337.05 L881.5 337.71 L882 337.75 L882.5 338.21 L883 339.18 L883.5 339.25 L884 339.97 L884.5 340.51 L885 340.93 L885.5 341.43 L886 342.3 L886.5 342.35 L887 343.87 L887.5 344.98 L888 345.36 L888.5 346.18 L889 347.16 L889.5 348.18 L890 348.38 L890.5 349.43 L891 350.18 L891.5 351.13 L892 346.55 L892.5 342.14 L893 342.53 L893.5 343.22 L894 343.68 L894.5 344.28 L895 344.98 L895 345.65 L895.2 334.77 L895.8 335.31 L896 345.65 L896.5 346.23 L897 347.56 L897.5 348.02 L898 349.1 L898.5 349.5 L899 350.05 L899.5 350.53 L900 350.88 L900.5 351.5 L901 352.4 L901.5 352.54 L902 354 L902.5 355.07 L903 355.77 L903.5 356.7 L904 358.4 L904.5 349.39 L905 341.38 L905.5 341.73 L906 342.31 L906.5 343.05 L907 343.74 L907.5 344.52 L908 345.03 L908.5 345.8 L909 346.64 L909.5 347.7 L910 348.43 L910.5 348.89 L911 349.79 L911.5 350.82 L912 351.46 L912.5 352.34 L913 353.05 L913.5 354.02 L914 354.98 L914.5 355.88 L915 356.47 L915.5 357.66 L916 358.01 L916.5 359.45 L917 359.79 L917.5 360.47 L918 344.42 L918.5 328.1 L919 329.23 L919.5 329.9 L920 330.84 L920.5 330.78 L921 332.03 L921.5 332.2 L922 332.99 L922.5 333.08 L923 334.36 L923.5 335.01 L924 335.97 L924.5 336.59 L925 337.09 L925.5 338.26 L926 338.95 L926.5 339.68 L927 340.51 L927.5 341.27 L928 341.8 L928.5 342.27 L929 343.02 L929.5 344.31 L930 344.93 L930.5 345.55 L931 346.19 L931.5 347.03 L932 347.78 L932.5 348.45 L933 349.12 L933.5 350.44 L934 350.8 L934.5 351.38 L935 351.99 L935.5 352.85 L936 353.89 L936.5 354.64 L937 355.19 L937.5 355.99 L938 356.67 L938.58 357 L939.15 357.98 L939.72 358.29 L940.3 359.21 L941 310.56 L941.55 311.79 L942.1 313.11 L942.65 314 L943.2 314.88 L943.75 316.08 L944.3 317.4 L944.8 318.55 L945.3 319.56 L945.8 320.87 L946.3 321.97 L946.8 322.93 L947.3 323.97 L947.8 325.01 L948.3 326.27 L948.84 326.84 L949.38 327.16 L949.92 327.73 L950.46 328.07 L951 328.35 L951.54 329.13 L952.08 330.18 L952.62 330.81 L953.16 331.74 L953.7 332.13 L954.2 333.22 L954.7 334.25 L955.2 335.12 L955.7 335.73 L956.2 336.75 L956.7 337.75 L957.2 338.46 L957.7 339.68 L958.2 340.41 L958.7 340.73 L959.2 341.85 L959.7 342.02 L960.2 342.65 L960.7 343.27 L961.2 343.8 L961.7 344.64 L962.23 345.26 L962.76 346.28 L963.29 346.77 L963.82 347.45 L964.35 348 L964.88 348.45 L965.41 349.41 L965.94 349.96 L966.47 351.02 L967 351.52 L967.6 352.93 L968.2 353.81 L968.8 354.9 L969.4 355.85 L970.3 349.23 L970.87 350.5 L971.43 351.75 L972 352.61 L972.57 354.04 L973.13 355.65 L973.7 356.3 L974.23 357.09 L974.76 357.82 L975.29 358.5 L975.82 359.85 L976.35 360.44 L976.88 361.32 L977.41 362.45 L977.94 363.4 L978.47 363.55 L979 364.76 L979.8 306.63 L980.3 307.45 L980.8 308.32 L981.3 309.07 L981.8 310.25 L982.3 310.91 L982.8 311.71 L983.3 312.75 L983.8 313.48 L984.3 314.19 L984.8 314.97 L985.3 316.05 L985.8 316.6 L986.1 293.98 L986.5 317.83 L987 318.83 L987.5 319.59 L988.02 320.91 L988.55 322.03 L989.08 322.65 L989.6 324.15 L990.12 325.37 L990.65 326.36 L991.18 327.22 L991.7 328.75 L992.25 322.36 L992.8 316.25 L993.3 317.12 L993.8 318.16 L994.3 319.2 L994.8 320.07 L995.3 320.71 L995.8 321.26 L996.34 322.77 L996.88 324.12 L997.42 325.66 L997.96 326.75 L998.5 328.52 L999.1 324.13 L999.7 319.47 L1000.2 320.7 L1000.7 321.53 L1001.2 322.54 L1001.7 323.82 L1002.2 325.29 L1002.7 326.37 L1003.2 327.19 L1003.7 328.63 L1004.2 329.44 L1004.73 330.94 L1005.25 331.88 L1005.78 332.84 L1006.31 334.23 L1006.84 335.05 L1007.36 336.16 L1007.89 337.2 L1008.42 338.69 L1008.95 339.77 L1009.47 340.9 L1010 341.98 L1010.53 343.35 L1011.05 343.99 L1011.58 344.94 L1012.11 346.34 L1012.64 347.38 L1013.16 348.17 L1013.69 348.76 L1014.22 349.99 L1014.75 351.24 L1015.27 352.13 L1015.8 353.44 L1016.3 353.81 L1016.8 355.18 L1017.3 355.87 L1017.8 357.22 L1018.3 357.9 L1018.8 359.07 L1019.3 359.69 L1019.8 360.5 L1020.3 361.51 L1020.8 362.57 L1021.36 363.28 L1021.91 364.52 L1022.47 365.34 L1023.03 365.92 L1023.59 366.45 L1024.14 367.42 L1024.7 368.1 L1025.5 348.54 L1026.03 349.03 L1026.56 349.79 L1027.09 350.33 L1027.61 350.73 L1028.14 351.7 L1028.67 352.35 L1029.2 353.37 L1029.7 354.49 L1030.2 355.49 L1030.7 356.74 L1031.2 358.31 L1031.7 358.98 L1032.2 360.17 L1032.7 361.48 L1033.2 362.56 L1033.7 363.79 L1034.2 365.16 L1034.75 356.81 L1035.3 347.51 L1035.9 349.12 L1036.5 350.39 L1037.1 351.62 L1037.7 352.86" fill="none" stroke="#f00" stroke-opacity="0.6" stroke-width="2.083" stroke-linejoin="round" stroke-linecap="square"/>
</g>
<path d="M192.5 534.5V539.5M361.5 534.5V539.5M531.5 534.5V539.5M700.5 534.5V539.5M869.5 534.5V539.5M1038.5 534.5V539.5M150.5 118.5H145.5M150.5 211.5H145.5M150.5 303.5H145.5M150.5 395.5H145.5M150.5 488.5H145.5" fill="none" stroke="#000" stroke-width="1.111"/>
<path d="M150.5 534.5V72.5M1080.5 534.5V72.5M150.5 534.5H1080.5M150.5 72.5H1080.5" fill="none" stroke="#000" stroke-width="1.111" stroke-linecap="square"/>
<path d="M904.28 146.5 L1070.72 146.5 Q1073.5 146.5 1073.5 143.72 L1073.5 82.28 Q1073.5 79.5 1070.72 79.5 L904.28 79.5 Q901.5 79.5 901.5 82.28 L901.5 143.72 Q901.5 146.5 904.28 146.5 Z" fill="#fff" opacity="0.8" stroke="#ccc" stroke-width="1.389" stroke-linejoin="miter"/>
<path d="M906 91H934" stroke="#000" stroke-width="2.083" stroke-linecap="square"/>
<path d="M906 112H934" stroke="#f00" stroke-opacity="0.6" stroke-width="2.083" stroke-linecap="square"/>
<path d="M906.5 137.5H934.5V128.5H906.5Z" fill="#808080" fill-opacity="0.4" stroke="#808080" stroke-opacity="0.4" stroke-width="1.389" stroke-linejoin="miter"/>
<g font-family="DejaVu Sans, sans-serif" fill="#000">
<text x="192.27" y="554.72" font-size="13.89" text-anchor="middle">30</text>
<text x="361.86" y="554.72" font-size="13.89" text-anchor="middle">40</text>
<text x="530.45" y="554.72" font-size="13.89" text-anchor="middle">50</text>
<text x="699.55" y="554.72" font-size="13.89" text-anchor="middle">60</text>
<text x="868.64" y="554.72" font-size="13.89" text-anchor="middle">70</text>
<text x="1037.73" y="554.72" font-size="13.89" text-anchor="middle">80</text>
<text x="615" y="574.28" font-size="13.89" text-anchor="middle">Frequency (MHz)</text>
<text x="140.78" y="493.3" font-size="13.89" text-anchor="end">0.6</text>
<text x="140.78" y="400.9" font-size="13.89" text-anchor="end">0.8</text>
<text x="140.28" y="307.5" font-size="13.89" text-anchor="end">1.0</text>
<text x="140.78" y="216.1" font-size="13.89" text-anchor="end">1.2</text>
<text x="140.78" y="123.7" font-size="13.89" text-anchor="end">1.4</text>
<text x="108.72" y="305" font-size="13.89" text-anchor="middle" transform="rotate(-90 108.72 305)">Normalized Power</text>
<text x="615" y="63.67" font-size="16.67" text-anchor="middle">2025-01-05 - Cor 104 - LWA022 - Pol YY - Normalized Spectrum (Median power=14.1 CPU)</text>
<text x="945.25" y="94.5" font-size="13.89" text-anchor="start">Median Spectrum</text>
<text x="945.25" y="116.44" font-size="13.89" text-anchor="start">Reference spec</text>
<text x="945.25" y="137.39" font-size="13.89" text-anchor="start">Median Abs. Dev.</text>
</g>
</svg>
</body></html>
